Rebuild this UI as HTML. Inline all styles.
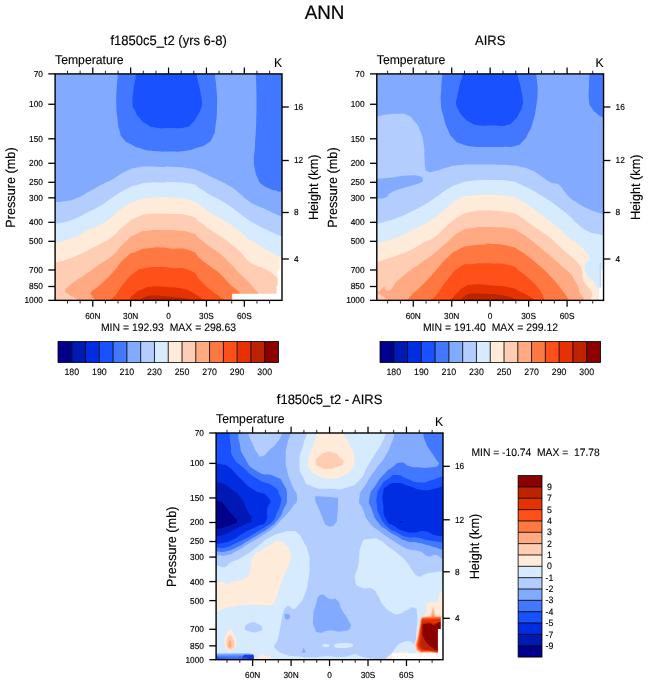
<!DOCTYPE html>
<html><head><meta charset="utf-8"><title>ANN</title>
<style>html,body{margin:0;padding:0;background:#fff}svg{display:block}
svg{-webkit-font-smoothing:antialiased}text{font-family:"Liberation Sans",sans-serif;fill:#000;text-rendering:geometricPrecision}</style></head>
<body><svg width="648" height="684" viewBox="0 0 648 684">
<rect width="648" height="684" fill="#fff"/>
<clipPath id="cp1"><rect x="55.1" y="73.9" width="226.9" height="226.5"/></clipPath>
<g clip-path="url(#cp1)">
<rect x="50" y="70" width="240" height="236" fill="#82aaff"/>
<path d="M117.80,60.00 C117.80,64.70 118.17,64.60 117.80,74.10 C117.43,83.60 117.20,78.77 116.70,88.50 C116.20,98.23 116.07,93.43 116.30,103.30 C116.53,113.17 116.30,108.83 117.40,118.10 C118.50,127.37 117.73,124.30 119.60,131.10 C121.47,137.90 119.40,134.17 123.00,138.50 C126.60,142.83 124.23,140.70 130.40,144.10 C136.57,147.50 133.50,146.37 141.50,148.70 C149.50,151.03 145.13,150.17 154.40,151.10 C163.67,152.03 159.40,151.57 169.30,151.50 C179.20,151.43 174.87,152.13 184.10,150.90 C193.33,149.67 189.60,150.07 197.00,147.80 C204.40,145.53 201.03,147.80 206.30,144.10 C211.57,140.40 209.70,142.87 212.80,136.70 C215.90,130.53 214.20,135.50 215.60,125.60 C217.00,115.70 216.70,119.37 217.00,107.00 C217.30,94.63 217.17,99.47 216.50,88.50 C215.83,77.53 215.50,83.60 215.00,74.10 C214.50,64.60 215.00,64.70 215.00,60.00Z" fill="#4178ff" />
<path d="M136.00,60.00 C135.97,64.70 136.67,64.60 135.90,74.10 C135.13,83.60 134.80,78.77 133.70,88.50 C132.60,98.23 132.17,95.90 132.60,103.30 C133.03,110.70 132.67,105.77 135.00,110.70 C137.33,115.63 135.60,113.47 139.60,118.10 C143.60,122.73 141.43,121.37 147.00,124.60 C152.57,127.83 148.87,126.63 156.30,127.80 C163.73,128.97 160.03,128.23 169.30,128.10 C178.57,127.97 176.70,128.87 184.10,127.40 C191.50,125.93 187.20,127.40 191.50,123.70 C195.80,120.00 193.93,121.23 197.00,116.30 C200.07,111.37 199.03,113.23 200.70,108.90 C202.37,104.57 202.10,108.87 202.00,103.30 C201.90,97.73 201.73,99.60 200.40,92.20 C199.07,84.80 199.23,87.13 198.00,81.10 C196.77,75.07 197.20,81.13 196.70,74.10 C196.20,67.07 196.57,64.70 196.50,60.00Z" fill="#1950ff" />
<path d="M255.75,70.00 C255.75,71.17 255.50,65.17 255.75,73.50 C256.00,81.83 256.33,79.50 256.50,95.00 C256.67,110.50 256.75,103.33 256.25,120.00 C255.75,136.67 255.75,131.67 255.00,145.00 C254.25,158.33 254.07,152.20 254.00,160.00 C253.93,167.80 253.60,162.43 254.80,168.40 C256.00,174.37 255.27,172.63 257.60,177.90 C259.93,183.17 257.93,180.70 261.80,184.20 C265.67,187.70 264.63,186.30 269.20,188.40 C273.77,190.50 271.43,189.43 275.50,190.50 C279.57,191.57 276.57,190.93 281.40,191.60 C286.23,192.27 287.13,192.20 290.00,192.50 L290.00,60.00Z" fill="#4178ff" />
<path d="M50.00,202.25 C51.83,202.17 50.50,202.33 55.50,202.00 C60.50,201.67 58.50,202.33 65.00,201.25 C71.50,200.17 67.50,201.67 75.00,198.75 C82.50,195.83 79.17,196.92 87.50,192.50 C95.83,188.08 91.67,189.92 100.00,185.50 C108.33,181.08 104.17,183.83 112.50,179.25 C120.83,174.67 116.67,175.67 125.00,171.75 C133.33,167.83 129.17,169.25 137.50,167.50 C145.83,165.75 141.67,166.67 150.00,166.50 C158.33,166.33 155.83,166.93 162.50,167.00 C169.17,167.07 160.83,166.23 170.00,166.70 C179.17,167.17 180.00,166.77 190.00,168.40 C200.00,170.03 193.33,168.97 200.00,171.60 C206.67,174.23 203.33,173.17 210.00,176.30 C216.67,179.43 213.33,177.67 220.00,181.00 C226.67,184.33 223.33,182.07 230.00,186.30 C236.67,190.53 234.00,188.97 240.00,193.70 C246.00,198.43 242.67,196.63 248.00,200.50 C253.33,204.37 250.00,202.30 256.00,205.30 C262.00,208.30 259.33,206.50 266.00,209.50 C272.67,212.50 270.83,212.00 276.00,214.30 C281.17,216.60 276.83,214.83 281.50,216.40 C286.17,217.97 287.17,218.13 290.00,219.00 L287.00,305.35 L50.10,305.35Z" fill="#b4cdff" />
<path d="M50.00,224.25 C51.83,224.08 50.50,224.50 55.50,223.75 C60.50,223.00 58.50,223.67 65.00,222.00 C71.50,220.33 67.50,221.92 75.00,218.75 C82.50,215.58 79.17,216.75 87.50,212.50 C95.83,208.25 91.67,211.00 100.00,206.00 C108.33,201.00 104.17,202.92 112.50,197.50 C120.83,192.08 116.67,194.00 125.00,189.75 C133.33,185.50 129.17,187.17 137.50,184.75 C145.83,182.33 141.67,183.25 150.00,182.50 C158.33,181.75 155.83,182.63 162.50,182.50 C169.17,182.37 160.83,181.73 170.00,182.10 C179.17,182.47 180.00,181.50 190.00,183.60 C200.00,185.70 193.33,184.70 200.00,188.40 C206.67,192.10 203.33,190.83 210.00,194.70 C216.67,198.57 213.33,196.13 220.00,200.00 C226.67,203.87 223.33,201.73 230.00,206.30 C236.67,210.87 234.00,209.30 240.00,213.70 C246.00,218.10 242.67,216.00 248.00,219.50 C253.33,223.00 250.00,220.87 256.00,224.20 C262.00,227.53 259.33,226.20 266.00,229.50 C272.67,232.80 270.83,231.87 276.00,234.10 C281.17,236.33 276.83,234.57 281.50,236.20 C286.17,237.83 287.17,238.07 290.00,239.00 L287.00,305.35 L50.10,305.35Z" fill="#d7ebff" />
<path d="M50.00,243.25 C51.83,243.00 50.50,243.42 55.50,242.50 C60.50,241.58 58.50,242.33 65.00,240.50 C71.50,238.67 67.50,240.33 75.00,237.00 C82.50,233.67 79.17,234.50 87.50,230.50 C95.83,226.50 91.67,229.67 100.00,225.00 C108.33,220.33 104.17,222.67 112.50,216.50 C120.83,210.33 116.67,211.83 125.00,206.50 C133.33,201.17 129.17,203.33 137.50,200.50 C145.83,197.67 141.67,199.00 150.00,198.00 C158.33,197.00 155.83,197.67 162.50,197.50 C169.17,197.33 160.83,196.67 170.00,197.50 C179.17,198.33 180.00,197.40 190.00,200.00 C200.00,202.60 193.33,201.10 200.00,205.30 C206.67,209.50 203.33,208.40 210.00,212.60 C216.67,216.80 213.33,214.03 220.00,217.90 C226.67,221.77 223.33,219.63 230.00,224.20 C236.67,228.77 234.00,226.83 240.00,231.60 C246.00,236.37 242.67,234.63 248.00,238.50 C253.33,242.37 250.00,239.53 256.00,243.20 C262.00,246.87 259.33,245.67 266.00,249.50 C272.67,253.33 270.83,252.10 276.00,254.70 C281.17,257.30 276.83,255.53 281.50,257.30 C286.17,259.07 287.17,259.10 290.00,260.00 L287.00,305.35 L50.10,305.35Z" fill="#ffebda" />
<path d="M50.00,263.50 C51.83,263.17 50.50,263.67 55.50,262.50 C60.50,261.33 58.50,262.08 65.00,260.00 C71.50,257.92 67.50,259.42 75.00,256.25 C82.50,253.08 79.17,254.58 87.50,250.50 C95.83,246.42 91.67,248.67 100.00,244.00 C108.33,239.33 104.17,242.83 112.50,236.50 C120.83,230.17 116.67,231.50 125.00,225.00 C133.33,218.50 129.17,220.67 137.50,217.00 C145.83,213.33 141.67,215.08 150.00,214.00 C158.33,212.92 155.83,213.85 162.50,213.75 C169.17,213.65 160.83,213.02 170.00,213.70 C179.17,214.38 180.00,213.00 190.00,215.80 C200.00,218.60 193.33,217.53 200.00,222.10 C206.67,226.67 203.33,224.93 210.00,229.50 C216.67,234.07 213.33,231.23 220.00,235.80 C226.67,240.37 223.33,237.93 230.00,243.20 C236.67,248.47 234.00,245.83 240.00,251.60 C246.00,257.37 242.67,255.93 248.00,260.50 C253.33,265.07 250.00,262.30 256.00,265.30 C262.00,268.30 259.33,265.67 266.00,269.50 C272.67,273.33 271.33,271.97 276.00,276.80 C280.67,281.63 278.00,276.27 280.00,284.00 C282.00,291.73 281.33,294.67 282.00,300.00 L287.00,305.35 L50.10,305.35Z" fill="#ffcdb4" />
<path d="M78.50,302.50 C78.17,301.67 78.67,301.50 77.50,300.00 C76.33,298.50 78.33,300.08 75.00,298.00 C71.67,295.92 70.67,296.42 67.50,293.75 C64.33,291.08 64.67,292.92 65.50,290.00 C66.33,287.08 66.83,287.92 70.00,285.00 C73.17,282.08 69.17,285.25 75.00,281.25 C80.83,277.25 79.17,278.75 87.50,273.00 C95.83,267.25 91.67,269.83 100.00,264.00 C108.33,258.17 104.17,262.75 112.50,255.50 C120.83,248.25 116.67,249.58 125.00,242.25 C133.33,234.92 129.17,237.42 137.50,233.50 C145.83,229.58 141.67,231.67 150.00,230.50 C158.33,229.33 155.83,230.13 162.50,230.00 C169.17,229.87 160.83,229.23 170.00,230.10 C179.17,230.97 180.00,229.63 190.00,232.60 C200.00,235.57 193.33,234.27 200.00,239.00 C206.67,243.73 203.33,241.90 210.00,246.80 C216.67,251.70 213.33,248.23 220.00,253.70 C226.67,259.17 223.33,256.53 230.00,263.20 C236.67,269.87 234.00,267.60 240.00,273.70 C246.00,279.80 242.67,275.90 248.00,281.50 C253.33,287.10 252.47,286.43 256.00,290.50 C259.53,294.57 256.60,288.53 258.60,293.70 C260.60,298.87 260.87,301.90 262.00,306.00Z" fill="#ffaa82" />
<path d="M96.00,302.50 C95.67,301.67 96.17,302.08 95.00,300.00 C93.83,297.92 93.75,298.92 92.50,296.25 C91.25,293.58 88.75,295.75 91.25,292.00 C93.75,288.25 92.92,291.42 100.00,285.00 C107.08,278.58 104.17,281.67 112.50,272.75 C120.83,263.83 116.67,265.50 125.00,258.25 C133.33,251.00 129.17,254.42 137.50,251.00 C145.83,247.58 141.67,249.17 150.00,248.00 C158.33,246.83 155.83,247.37 162.50,247.50 C169.17,247.63 160.83,247.40 170.00,248.40 C179.17,249.40 180.00,247.13 190.00,250.50 C200.00,253.87 193.33,253.23 200.00,258.50 C206.67,263.77 203.33,261.23 210.00,266.30 C216.67,271.37 213.33,267.73 220.00,273.70 C226.67,279.67 223.33,277.53 230.00,284.20 C236.67,290.87 234.67,286.43 240.00,293.70 C245.33,300.97 244.00,301.90 246.00,306.00Z" fill="#ff7841" />
<path d="M107.00,302.50 C107.75,301.67 106.58,302.25 109.25,300.00 C111.92,297.75 109.75,301.75 115.00,295.75 C120.25,289.75 118.33,289.83 125.00,282.00 C131.67,274.17 128.33,276.83 135.00,272.25 C141.67,267.67 135.83,270.00 145.00,268.25 C154.17,266.50 154.17,267.15 162.50,267.00 C170.83,266.85 160.83,266.63 170.00,267.80 C179.17,268.97 180.00,266.43 190.00,270.50 C200.00,274.57 193.33,273.67 200.00,280.00 C206.67,286.33 203.33,283.90 210.00,289.50 C216.67,295.10 215.33,293.30 220.00,296.80 C224.67,300.30 221.33,296.93 224.00,300.00 C226.67,303.07 226.67,304.00 228.00,306.00Z" fill="#ff5019" />
<path d="M124.00,303.00 C125.50,302.00 124.83,303.17 128.50,300.00 C132.17,296.83 130.17,297.17 135.00,293.50 C139.83,289.83 137.67,291.27 143.00,289.00 C148.33,286.73 143.23,287.37 151.00,286.70 C158.77,286.03 156.07,286.37 166.30,287.00 C176.53,287.63 173.47,287.00 181.70,288.60 C189.93,290.20 184.83,288.83 191.00,291.80 C197.17,294.77 196.03,294.77 200.20,297.50 C204.37,300.23 201.23,298.17 203.50,300.00 C205.77,301.83 205.83,302.00 207.00,303.00Z" fill="#e63200" />
<path d="M136.00,303.00 C137.33,302.00 136.67,302.07 140.00,300.00 C143.33,297.93 141.33,298.30 146.00,296.80 C150.67,295.30 147.33,295.70 154.00,295.50 C160.67,295.30 157.33,295.50 166.00,296.20 C174.67,296.90 173.33,296.73 180.00,297.60 C186.67,298.47 182.67,298.00 186.00,298.80 C189.33,299.60 187.67,298.60 190.00,300.00 C192.33,301.40 192.00,302.00 193.00,303.00Z" fill="#be2300" />
<path d="M232.1,293.7 L276.5,293.7 L276.5,286 L277.6,286 L277.6,269.5 L279.7,269.5 L279.7,257.5 L284,257.5 L284,304 L232.1,304Z" fill="#fff"/>
</g>
<clipPath id="cp2"><rect x="376.8" y="73.9" width="226.7" height="226.5"/></clipPath>
<g clip-path="url(#cp2)">
<rect x="370" y="70" width="240" height="236" fill="#82aaff"/>
<path d="M442.20,60.00 C442.20,64.70 442.50,64.60 442.20,74.10 C441.90,83.60 441.73,78.77 441.30,88.50 C440.87,98.23 440.17,94.03 440.90,103.30 C441.63,112.57 441.23,107.63 443.50,116.30 C445.77,124.97 444.43,121.90 447.70,129.30 C450.97,136.70 448.67,133.57 453.30,138.50 C457.93,143.43 455.13,141.43 461.60,144.10 C468.07,146.77 464.03,145.57 472.70,146.50 C481.37,147.43 477.70,146.77 487.60,146.90 C497.50,147.03 493.17,147.23 502.40,146.90 C511.63,146.57 508.53,147.77 515.30,145.90 C522.07,144.03 518.37,145.60 522.70,141.30 C527.03,137.00 524.90,139.47 528.30,133.00 C531.70,126.53 530.30,130.57 532.90,121.90 C535.50,113.23 534.53,116.90 536.10,107.00 C537.67,97.10 537.30,100.83 537.60,92.20 C537.90,83.57 537.43,87.13 537.00,81.10 C536.57,75.07 536.53,81.13 536.30,74.10 C536.07,67.07 536.30,64.70 536.30,60.00Z" fill="#4178ff" />
<path d="M463.00,60.00 C462.87,64.70 463.67,65.83 462.60,74.10 C461.53,82.37 461.67,76.90 459.80,84.80 C457.93,92.70 458.23,91.63 457.00,97.80 C455.77,103.97 455.47,99.00 456.10,103.30 C456.73,107.60 456.13,105.77 458.90,110.70 C461.67,115.63 460.40,114.07 464.40,118.10 C468.40,122.13 466.27,120.43 470.90,122.80 C475.53,125.17 471.50,124.27 478.30,125.20 C485.10,126.13 482.03,125.60 491.30,125.60 C500.57,125.60 498.70,126.77 506.10,125.20 C513.50,123.63 509.20,124.80 513.50,120.90 C517.80,117.00 516.03,118.73 519.00,113.50 C521.97,108.27 521.17,109.83 522.40,105.20 C523.63,100.57 523.20,105.17 522.70,99.60 C522.20,94.03 522.23,95.27 520.90,88.50 C519.57,81.73 519.80,84.10 518.70,79.30 C517.60,74.50 518.03,80.53 517.60,74.10 C517.17,67.67 517.47,64.70 517.40,60.00Z" fill="#1950ff" />
<path d="M589.50,70.00 C589.50,71.17 589.67,68.50 589.50,73.50 C589.33,78.50 589.17,76.17 589.00,85.00 C588.83,93.83 588.17,92.50 589.00,100.00 C589.83,107.50 588.83,102.92 591.50,107.50 C594.17,112.08 593.50,110.58 597.00,113.75 C600.50,116.92 599.83,115.75 602.00,117.00 C604.17,118.25 601.00,117.17 603.50,117.50 C606.00,117.83 607.50,117.83 609.50,118.00 L615.00,60.00Z" fill="#4178ff" />
<path d="M372.00,117.00 C373.83,116.75 372.50,117.08 377.50,116.25 C382.50,115.42 379.67,115.33 387.00,114.50 C394.33,113.67 392.83,113.58 399.50,113.75 C406.17,113.92 402.00,112.50 407.00,115.00 C412.00,117.50 409.92,115.42 414.50,121.25 C419.08,127.08 417.67,124.58 420.75,132.50 C423.83,140.42 422.50,136.67 423.75,145.00 C425.00,153.33 424.00,150.00 424.50,157.50 C425.00,165.00 424.25,162.92 425.25,167.50 C426.25,172.08 424.42,170.00 427.50,171.25 C430.58,172.50 428.00,172.50 434.50,171.25 C441.00,170.00 438.67,169.58 447.00,167.50 C455.33,165.42 451.17,166.00 459.50,165.00 C467.83,164.00 463.67,164.67 472.00,164.50 C480.33,164.33 478.50,164.47 484.50,164.50 C490.50,164.53 481.50,164.33 490.00,164.60 C498.50,164.87 500.00,164.60 510.00,165.30 C520.00,166.00 513.33,165.30 520.00,166.70 C526.67,168.10 523.33,166.67 530.00,169.50 C536.67,172.33 533.33,171.00 540.00,175.20 C546.67,179.40 544.67,179.33 550.00,182.10 C555.33,184.87 552.67,182.30 556.00,183.50 C559.33,184.70 557.00,182.87 560.00,185.70 C563.00,188.53 561.67,188.00 565.00,192.00 C568.33,196.00 565.67,193.97 570.00,197.70 C574.33,201.43 572.00,199.50 578.00,203.20 C584.00,206.90 581.33,205.67 588.00,208.80 C594.67,211.93 592.83,210.77 598.00,212.60 C603.17,214.43 598.83,213.17 603.50,214.30 C608.17,215.43 609.17,215.43 612.00,216.00 L608.55,305.35 L371.80,305.35Z" fill="#b4cdff" />
<path d="M372.00,179.25 C373.83,179.08 370.83,179.33 377.50,178.75 C384.17,178.17 382.17,178.58 392.00,177.50 C401.83,176.42 397.83,175.92 407.00,175.50 C416.17,175.08 414.25,174.75 419.50,176.25 C424.75,177.75 422.33,177.92 422.75,180.00 C423.17,182.08 425.17,180.42 420.75,182.50 C416.33,184.58 417.42,183.75 409.50,186.25 C401.58,188.75 403.67,187.50 397.00,190.00 C390.33,192.50 393.25,191.25 389.50,193.75 C385.75,196.25 389.75,195.83 385.75,197.50 C381.75,199.17 382.08,198.25 377.50,198.75 C372.92,199.25 373.83,198.92 372.00,199.00Z" fill="#82aaff" />
<path d="M372.00,225.00 C373.83,224.58 372.50,225.00 377.50,223.75 C382.50,222.50 380.50,223.17 387.00,221.25 C393.50,219.33 389.50,220.92 397.00,218.00 C404.50,215.08 401.17,216.50 409.50,212.50 C417.83,208.50 413.67,210.75 422.00,206.00 C430.33,201.25 426.17,203.75 434.50,198.25 C442.83,192.75 438.67,194.42 447.00,189.50 C455.33,184.58 451.17,186.42 459.50,183.50 C467.83,180.58 463.67,181.92 472.00,180.75 C480.33,179.58 478.50,180.25 484.50,180.00 C490.50,179.75 481.50,179.67 490.00,180.00 C498.50,180.33 500.00,179.60 510.00,181.00 C520.00,182.40 513.33,181.53 520.00,184.20 C526.67,186.87 523.33,185.50 530.00,189.00 C536.67,192.50 533.33,190.70 540.00,194.70 C546.67,198.70 543.33,196.43 550.00,201.00 C556.67,205.57 553.33,203.23 560.00,208.40 C566.67,213.57 564.00,211.23 570.00,216.50 C576.00,221.77 572.00,219.30 578.00,224.20 C584.00,229.10 581.33,227.90 588.00,231.20 C594.67,234.50 592.83,232.70 598.00,234.10 C603.17,235.50 598.83,234.43 603.50,235.40 C608.17,236.37 609.17,236.47 612.00,237.00 L608.55,305.35 L371.80,305.35Z" fill="#d7ebff" />
<path d="M372.00,244.25 C373.83,243.83 372.50,244.25 377.50,243.00 C382.50,241.75 380.50,242.33 387.00,240.50 C393.50,238.67 389.50,240.50 397.00,237.50 C404.50,234.50 401.17,235.58 409.50,231.50 C417.83,227.42 413.67,229.75 422.00,225.25 C430.33,220.75 426.17,223.83 434.50,218.00 C442.83,212.17 438.67,214.25 447.00,207.75 C455.33,201.25 451.17,202.50 459.50,198.50 C467.83,194.50 463.67,196.92 472.00,195.75 C480.33,194.58 478.50,195.35 484.50,195.00 C490.50,194.65 481.50,194.30 490.00,194.70 C498.50,195.10 500.00,194.43 510.00,196.20 C520.00,197.97 513.33,196.63 520.00,200.00 C526.67,203.37 523.33,201.73 530.00,206.30 C536.67,210.87 533.33,208.80 540.00,213.70 C546.67,218.60 543.33,215.73 550.00,221.00 C556.67,226.27 553.33,223.67 560.00,229.50 C566.67,235.33 564.00,233.60 570.00,238.50 C576.00,243.40 571.87,238.43 578.00,244.20 C584.13,249.97 585.77,249.47 588.40,255.80 C591.03,262.13 587.10,258.63 585.90,263.20 C584.70,267.77 584.60,265.67 584.80,269.50 C585.00,273.33 584.73,271.57 586.50,274.70 C588.27,277.83 587.83,276.80 590.10,278.90 C592.37,281.00 591.20,278.53 593.30,281.00 C595.40,283.47 594.67,283.47 596.40,286.30 C598.13,289.13 596.63,286.27 598.50,289.50 C600.37,292.73 600.17,290.50 602.00,296.00 C603.83,301.50 603.33,302.67 604.00,306.00 L371.80,305.35Z" fill="#ffebda" />
<path d="M372.00,263.25 C373.83,262.83 372.50,263.50 377.50,262.00 C382.50,260.50 380.50,260.92 387.00,258.75 C393.50,256.58 389.50,258.25 397.00,255.50 C404.50,252.75 401.17,254.50 409.50,250.50 C417.83,246.50 413.67,248.00 422.00,243.50 C430.33,239.00 426.17,242.92 434.50,237.00 C442.83,231.08 438.67,232.67 447.00,225.75 C455.33,218.83 451.17,220.92 459.50,216.25 C467.83,211.58 463.67,213.67 472.00,211.75 C480.33,209.83 478.50,210.92 484.50,210.50 C490.50,210.08 481.50,209.80 490.00,210.50 C498.50,211.20 500.00,210.50 510.00,212.60 C520.00,214.70 513.33,213.10 520.00,216.80 C526.67,220.50 523.33,219.13 530.00,223.70 C536.67,228.27 533.33,225.90 540.00,230.50 C546.67,235.10 543.33,232.10 550.00,237.50 C556.67,242.90 553.33,240.70 560.00,246.70 C566.67,252.70 563.97,250.00 570.00,255.50 C576.03,261.00 574.20,258.53 578.10,263.20 C582.00,267.87 580.17,264.60 581.70,269.50 C583.23,274.40 581.30,273.00 582.70,277.90 C584.10,282.80 583.43,280.33 585.90,284.20 C588.37,288.07 588.00,286.33 590.10,289.50 C592.20,292.67 591.70,291.27 592.20,293.70 C592.70,296.13 592.10,294.77 591.60,296.80 C591.10,298.83 591.23,296.73 590.70,299.80 C590.17,302.87 590.23,303.93 590.00,306.00 L371.80,305.35Z" fill="#ffcdb4" />
<path d="M372.00,293.50 C373.73,293.20 374.17,293.93 377.20,292.60 C380.23,291.27 378.77,291.37 381.10,289.50 C383.43,287.63 382.57,286.80 384.20,287.00 C385.83,287.20 384.57,288.87 386.00,290.10 C387.43,291.33 386.63,291.10 388.50,290.70 C390.37,290.30 389.53,291.13 391.60,288.90 C393.67,286.67 392.90,286.55 394.70,284.00 C396.50,281.45 392.07,285.58 397.00,281.25 C401.93,276.92 401.17,277.33 409.50,271.00 C417.83,264.67 413.67,268.25 422.00,262.25 C430.33,256.25 426.17,259.67 434.50,253.00 C442.83,246.33 438.67,249.25 447.00,242.25 C455.33,235.25 451.17,236.75 459.50,232.00 C467.83,227.25 463.67,229.67 472.00,228.00 C480.33,226.33 478.50,227.33 484.50,227.00 C490.50,226.67 481.50,226.53 490.00,227.00 C498.50,227.47 500.00,226.53 510.00,228.40 C520.00,230.27 513.33,228.90 520.00,232.60 C526.67,236.30 523.33,234.57 530.00,239.50 C536.67,244.43 533.33,241.97 540.00,247.40 C546.67,252.83 543.33,250.07 550.00,255.80 C556.67,261.53 553.33,258.70 560.00,264.60 C566.67,270.50 565.23,268.37 570.00,273.50 C574.77,278.63 571.60,275.73 574.30,280.00 C577.00,284.27 576.33,282.10 578.10,286.30 C579.87,290.50 578.07,289.10 579.60,292.60 C581.13,296.10 581.30,294.40 582.70,296.80 C584.10,299.20 583.37,296.73 583.80,299.80 C584.23,302.87 583.93,303.93 584.00,306.00 L371.80,305.35Z" fill="#ffaa82" />
<path d="M372,292.8 L377.2,292.8 L381.1,295.1 L384.8,297.5 L386.7,300.4 L387,306 L372,306Z" fill="#ffcdb4"/>
<path d="M407.00,302.50 C407.42,301.67 406.58,302.67 408.25,300.00 C409.92,297.33 407.42,299.33 412.00,294.50 C416.58,289.67 414.50,293.00 422.00,285.50 C429.50,278.00 426.17,281.17 434.50,272.00 C442.83,262.83 438.67,265.67 447.00,258.00 C455.33,250.33 451.17,253.17 459.50,249.00 C467.83,244.83 463.67,247.00 472.00,245.50 C480.33,244.00 478.50,245.07 484.50,244.50 C490.50,243.93 481.50,243.20 490.00,243.80 C498.50,244.40 500.00,243.90 510.00,246.30 C520.00,248.70 513.33,247.13 520.00,251.00 C526.67,254.87 523.33,252.80 530.00,257.90 C536.67,263.00 533.33,260.33 540.00,266.30 C546.67,272.27 543.33,268.77 550.00,275.80 C556.67,282.83 553.67,279.40 560.00,287.40 C566.33,295.40 564.67,293.60 569.00,299.80 C573.33,306.00 571.67,303.93 573.00,306.00Z" fill="#ff7841" />
<path d="M429.50,302.50 C430.00,301.67 428.33,303.00 431.00,300.00 C433.67,297.00 432.17,300.08 437.50,293.50 C442.83,286.92 439.67,289.00 447.00,280.25 C454.33,271.50 451.17,272.67 459.50,267.25 C467.83,261.83 463.67,265.33 472.00,264.00 C480.33,262.67 478.50,263.52 484.50,263.25 C490.50,262.98 481.50,262.52 490.00,263.20 C498.50,263.88 500.00,262.50 510.00,265.30 C520.00,268.10 513.33,266.87 520.00,271.60 C526.67,276.33 523.33,273.20 530.00,279.50 C536.67,285.80 535.10,283.73 540.00,290.50 C544.90,297.27 542.03,294.63 544.70,299.80 C547.37,304.97 546.90,303.93 548.00,306.00Z" fill="#ff5019" />
<path d="M449.75,302.50 C450.17,301.67 448.58,303.17 451.00,300.00 C453.42,296.83 452.50,297.33 457.00,293.00 C461.50,288.67 459.50,289.75 464.50,287.00 C469.50,284.25 465.33,285.58 472.00,284.75 C478.67,283.92 478.50,284.32 484.50,284.50 C490.50,284.68 481.50,284.33 490.00,285.30 C498.50,286.27 500.00,285.30 510.00,287.40 C520.00,289.50 513.33,288.47 520.00,291.60 C526.67,294.73 525.33,294.07 530.00,296.80 C534.67,299.53 530.67,296.73 534.00,299.80 C537.33,302.87 538.00,303.93 540.00,306.00Z" fill="#e63200" />
<path d="M459.50,302.50 C460.00,301.67 459.17,302.17 461.00,300.00 C462.83,297.83 461.33,298.17 465.00,296.00 C468.67,293.83 465.50,294.25 472.00,293.50 C478.50,292.75 476.17,293.42 484.50,293.75 C492.83,294.08 489.50,293.67 497.00,294.50 C504.50,295.33 501.17,294.83 507.00,296.25 C512.83,297.67 511.17,297.50 514.50,298.75 C517.83,300.00 515.33,298.75 517.00,300.00 C518.67,301.25 518.67,301.67 519.50,302.50Z" fill="#be2300" />
<rect x="599.7" y="263" width="1.5" height="25" fill="#b4cdff" opacity="0.75"/>
<path d="M599.2,287.4 L601.3,287.4 L601.3,269.5 L606,269.5 L606,306 L599.2,306Z" fill="#fff"/>
</g>
<clipPath id="cp3"><rect x="216.1" y="433.0" width="226.9" height="226.7"/></clipPath>
<g clip-path="url(#cp3)">
<rect x="210" y="430" width="240" height="236" fill="#b4cdff"/>
<path d="M307.50,427.50 C307.33,429.50 308.42,427.67 307.00,433.50 C305.58,439.33 305.75,435.33 303.25,445.00 C300.75,454.67 299.50,451.67 299.50,462.50 C299.50,473.33 299.08,469.58 303.25,477.50 C307.42,485.42 303.25,482.50 312.00,486.25 C320.75,490.00 317.83,488.33 329.50,488.75 C341.17,489.17 337.00,490.42 347.00,487.50 C357.00,484.58 352.83,486.67 359.50,480.00 C366.17,473.33 362.00,475.83 367.00,467.50 C372.00,459.17 369.92,462.50 374.50,455.00 C379.08,447.50 377.00,452.17 380.75,445.00 C384.50,437.83 383.83,439.33 385.75,433.50 C387.67,427.67 386.25,429.50 386.50,427.50Z" fill="#d7ebff" />
<path d="M209.50,565.00 C211.83,565.17 211.50,564.83 216.50,565.50 C221.50,566.17 219.75,568.00 224.50,567.00 C229.25,566.00 225.75,565.25 230.75,562.50 C235.75,559.75 233.25,562.08 239.50,558.75 C245.75,555.42 242.83,557.08 249.50,552.50 C256.17,547.92 252.83,550.00 259.50,545.00 C266.17,540.00 262.00,541.67 269.50,537.50 C277.00,533.33 274.50,534.58 282.00,532.50 C289.50,530.42 286.58,530.83 292.00,531.25 C297.42,531.67 294.50,530.42 298.25,533.75 C302.00,537.08 299.92,535.00 303.25,541.25 C306.58,547.50 306.17,544.58 308.25,552.50 C310.33,560.42 309.50,555.83 309.50,565.00 C309.50,574.17 309.92,570.00 308.25,580.00 C306.58,590.00 307.83,586.67 304.50,595.00 C301.17,603.33 302.00,600.42 298.25,605.00 C294.50,609.58 296.17,608.33 293.25,608.75 C290.33,609.17 292.00,606.67 289.50,606.25 C287.00,605.83 287.83,605.42 285.75,607.50 C283.67,609.58 284.92,606.67 283.25,612.50 C281.58,618.33 282.67,615.83 280.75,625.00 C278.83,634.17 279.58,633.33 277.50,640.00 C275.42,646.67 274.67,641.67 274.50,645.00 C274.33,648.33 272.83,646.67 277.00,650.00 C281.17,653.33 280.33,652.92 287.00,655.00 C293.67,657.08 288.67,655.42 297.00,656.25 C305.33,657.08 302.00,657.50 312.00,657.50 C322.00,657.50 317.00,656.42 327.00,656.25 C337.00,656.08 332.00,657.83 342.00,657.00 C352.00,656.17 352.00,654.42 357.00,653.75 C362.00,653.08 353.67,653.58 357.00,655.00 C360.33,656.42 361.17,656.58 367.00,658.00 C372.83,659.42 371.58,656.92 374.50,659.25 C377.42,661.58 375.33,663.08 375.75,665.00 L200.00,670.00Z" fill="#d7ebff" />
<path d="M363.25,540.00 C366.17,539.58 366.58,538.75 372.00,538.75 C377.42,538.75 373.67,537.08 379.50,540.00 C385.33,542.92 382.83,542.50 389.50,547.50 C396.17,552.50 393.67,550.00 399.50,555.00 C405.33,560.00 402.83,557.50 407.00,562.50 C411.17,567.50 408.25,565.42 412.00,570.00 C415.75,574.58 414.08,574.75 418.25,576.25 C422.42,577.75 419.92,575.75 424.50,574.50 C429.08,573.25 425.92,573.58 432.00,572.50 C438.08,571.42 436.92,571.67 442.75,571.25 C448.58,570.83 447.25,571.25 449.50,571.25 L450,670 L385.75,665.00 C385.75,663.08 385.33,661.75 385.75,659.25 C386.17,656.75 384.92,659.75 387.00,657.50 C389.08,655.25 388.67,656.25 392.00,652.50 C395.33,648.75 393.67,649.58 397.00,646.25 C400.33,642.92 397.83,644.17 402.00,642.50 C406.17,640.83 405.33,641.25 409.50,641.25 C413.67,641.25 412.17,646.25 414.50,642.50 C416.83,638.75 415.67,639.17 416.50,630.00 C417.33,620.83 417.67,622.33 417.00,615.00 C416.33,607.67 417.83,609.67 414.50,608.00 C411.17,606.33 412.00,608.08 407.00,610.00 C402.00,611.92 404.50,612.92 399.50,613.75 C394.50,614.58 397.42,615.42 392.00,612.50 C386.58,609.58 387.83,610.42 383.25,605.00 C378.67,599.58 382.00,601.67 378.25,596.25 C374.50,590.83 377.42,591.67 372.00,588.75 C366.58,585.83 367.67,590.42 362.00,587.50 C356.33,584.58 356.25,587.50 355.00,580.00 C353.75,572.50 356.75,575.00 358.25,565.00 C359.75,555.00 359.08,555.00 359.50,550.00Z" fill="#d7ebff" />
<path d="M322.50,645.50 C322.50,644.50 323.42,644.00 325.75,644.00 C328.08,644.00 329.50,644.50 329.50,645.50 C329.50,646.50 328.08,647.00 325.75,647.00 C323.42,647.00 322.50,646.50 322.50,645.50Z" fill="#d7ebff" />
<path d="M334.00,645.75 C334.00,644.08 336.83,643.17 343.25,643.00 C349.67,642.83 353.25,643.58 353.25,645.25 C353.25,646.92 349.67,647.83 343.25,648.00 C336.83,648.17 334.00,647.42 334.00,645.75Z" fill="#d7ebff" />
<path d="M317.50,427.50 C317.33,429.50 318.42,427.67 317.00,433.50 C315.58,439.33 316.17,436.17 313.25,445.00 C310.33,453.83 309.08,451.67 308.25,460.00 C307.42,468.33 307.00,464.58 310.75,470.00 C314.50,475.42 313.25,473.33 319.50,476.25 C325.75,479.17 322.00,478.75 329.50,478.75 C337.00,478.75 334.92,479.17 342.00,476.25 C349.08,473.33 346.58,475.42 350.75,470.00 C354.92,464.58 354.50,467.50 354.50,460.00 C354.50,452.50 353.67,455.00 350.75,447.50 C347.83,440.00 348.25,442.17 345.75,437.50 C343.25,432.83 344.25,436.83 343.25,433.50 C342.25,430.17 342.92,429.50 342.75,427.50Z" fill="#ffebda" />
<path d="M209.50,583.00 C211.83,582.83 212.33,583.08 216.50,582.50 C220.67,581.92 218.50,580.83 222.00,581.25 C225.50,581.67 222.83,583.75 227.00,583.75 C231.17,583.75 228.67,582.92 234.50,581.25 C240.33,579.58 239.50,581.67 244.50,578.75 C249.50,575.83 246.58,579.58 249.50,572.50 C252.42,565.42 249.08,565.00 253.25,557.50 C257.42,550.00 255.75,554.58 262.00,550.00 C268.25,545.42 266.58,546.67 272.00,543.75 C277.42,540.83 273.67,540.83 278.25,541.25 C282.83,541.67 281.58,540.83 285.75,545.00 C289.92,549.17 289.50,547.92 290.75,553.75 C292.00,559.58 291.58,555.42 289.50,562.50 C287.42,569.58 287.83,566.67 284.50,575.00 C281.17,583.33 282.42,579.17 279.50,587.50 C276.58,595.83 278.67,594.17 275.75,600.00 C272.83,605.83 276.17,603.33 270.75,605.00 C265.33,606.67 267.42,605.00 259.50,605.00 C251.58,605.00 255.33,604.58 247.00,605.00 C238.67,605.42 242.00,605.00 234.50,606.25 C227.00,607.50 230.50,607.08 224.50,608.75 C218.50,610.42 221.50,610.25 216.50,611.25 C211.50,612.25 211.83,611.58 209.50,611.75Z" fill="#ffebda" />
<path d="M224.50,642.50 C224.25,637.92 224.08,639.17 225.75,635.00 C227.42,630.83 226.75,630.42 229.50,630.00 C232.25,629.58 231.75,630.00 234.00,633.75 C236.25,637.50 235.92,636.67 236.25,641.25 C236.58,645.83 236.83,644.33 235.00,647.50 C233.17,650.67 233.58,650.33 230.75,650.75 C227.92,651.17 228.58,651.50 226.50,648.75 C224.42,646.00 224.75,647.08 224.50,642.50Z" fill="#ffebda" />
<path d="M226.25,643.00 C226.25,639.67 226.25,640.50 227.50,638.00 C228.75,635.50 228.17,635.25 230.00,635.50 C231.83,635.75 231.50,636.00 233.00,638.75 C234.50,641.50 234.42,640.58 234.50,643.75 C234.58,646.92 234.75,646.33 233.25,648.25 C231.75,650.17 231.92,649.58 230.00,649.50 C228.08,649.42 228.75,650.17 227.50,648.00 C226.25,645.83 226.25,646.33 226.25,643.00Z" fill="#ffcdb4" />
<path d="M228.25,644.50 C228.58,642.17 228.67,640.00 229.75,640.00 C230.83,640.00 231.25,642.00 231.50,644.50 C231.75,647.00 231.42,646.67 230.50,647.50 C229.58,648.33 229.50,648.00 228.75,647.00 C228.00,646.00 227.92,646.83 228.25,644.50Z" fill="#ffaa82" />
<path d="M257.00,662.50 C257.42,661.42 257.00,661.75 258.25,659.25 C259.50,656.75 257.00,655.75 260.75,655.00 C264.50,654.25 265.33,655.58 269.50,657.00 C273.67,658.42 271.58,657.42 273.25,659.25 C274.92,661.08 274.08,661.42 274.50,662.50Z" fill="#ffebda" />
<path d="M384.50,662.50 C384.92,661.42 383.25,661.92 385.75,659.25 C388.25,656.58 386.58,657.17 392.00,654.50 C397.42,651.83 396.58,651.75 402.00,651.25 C407.42,650.75 405.75,649.25 408.25,653.00 C410.75,656.75 409.08,659.33 409.50,662.50Z" fill="#ffebda" />
<path d="M315.65,462.46 C315.24,458.83 315.53,459.71 319.16,456.32 C322.78,452.92 321.73,453.45 326.53,452.28 C331.32,451.11 329.16,451.17 333.54,452.81 C337.93,454.44 336.41,453.86 339.68,457.19 C342.96,460.53 344.25,459.59 343.37,462.81 C342.49,466.02 342.08,464.80 337.05,466.84 C332.02,468.89 333.84,468.83 328.28,468.95 C322.73,469.06 324.60,469.36 320.39,467.19 C316.18,465.03 316.06,466.08 315.65,462.46Z" fill="#ffcdb4" />
<path d="M291.50,427.50 C291.25,429.50 292.25,427.67 290.75,433.50 C289.25,439.33 288.67,437.00 287.00,445.00 C285.33,453.00 285.75,449.17 285.75,457.50 C285.75,465.83 284.92,460.83 287.00,470.00 C289.08,479.17 288.67,475.83 292.00,485.00 C295.33,494.17 297.00,490.00 297.00,497.50 C297.00,505.00 295.67,501.67 292.00,507.50 C288.33,513.33 289.67,510.83 286.00,515.00 C282.33,519.17 285.08,515.83 281.00,520.00 C276.92,524.17 280.25,522.17 273.75,527.50 C267.25,532.83 269.75,530.67 261.50,536.00 C253.25,541.33 257.25,538.50 249.00,543.50 C240.75,548.50 244.17,547.08 236.75,551.00 C229.33,554.92 233.33,553.83 226.75,555.25 C220.17,556.67 222.75,555.25 217.00,555.25 C211.25,555.25 212.00,555.25 209.50,555.25 L205.00,425.00Z" fill="#82aaff" />
<path d="M247.75,427.50 C247.92,429.50 246.83,428.50 248.25,433.50 C249.67,438.50 249.08,436.17 252.00,442.50 C254.92,448.83 253.67,447.92 257.00,452.50 C260.33,457.08 257.83,457.08 262.00,456.25 C266.17,455.42 264.50,454.58 269.50,450.00 C274.50,445.42 272.83,448.00 277.00,442.50 C281.17,437.00 280.17,438.50 282.00,433.50 C283.83,428.50 282.33,429.50 282.50,427.50Z" fill="#b4cdff" />
<path d="M395.00,427.50 C394.83,429.50 395.92,427.67 394.50,433.50 C393.08,439.33 394.08,437.00 390.75,445.00 C387.42,453.00 389.08,450.00 384.50,457.50 C379.92,465.00 382.83,459.17 377.00,467.50 C371.17,475.83 372.83,472.50 367.00,482.50 C361.17,492.50 360.75,488.33 359.50,497.50 C358.25,506.67 359.92,501.67 363.25,510.00 C366.58,518.33 364.08,515.42 369.50,522.50 C374.92,529.58 372.00,525.42 379.50,531.25 C387.00,537.08 384.50,535.00 392.00,540.00 C399.50,545.00 396.17,543.08 402.00,546.25 C407.83,549.42 403.67,547.83 409.50,549.50 C415.33,551.17 413.25,549.00 419.50,551.25 C425.75,553.50 422.83,555.00 428.25,556.25 C433.67,557.50 430.92,554.17 435.75,555.00 C440.58,555.83 438.17,557.08 442.75,558.75 C447.33,560.42 447.25,559.58 449.50,560.00 L455.00,425.00Z" fill="#82aaff" />
<path d="M314.95,496.32 L326.53,496.67 L338.11,498.07 L337.75,510.70 L336.88,521.23 L333.54,525.61 L329.68,526.84 L325.12,524.39 L320.39,512.46 L315.65,501.93Z" fill="#82aaff" />
<path d="M313.25,617.50 C313.67,610.00 313.25,612.50 315.75,605.00 C318.25,597.50 316.17,597.08 320.75,595.00 C325.33,592.92 324.08,597.08 329.50,598.75 C334.92,600.42 332.83,596.25 337.00,600.00 C341.17,603.75 338.25,603.33 342.00,610.00 C345.75,616.67 345.50,614.17 348.25,620.00 C351.00,625.83 352.33,623.75 350.25,627.50 C348.17,631.25 348.92,630.25 342.00,631.25 C335.08,632.25 337.00,630.08 329.50,630.50 C322.00,630.92 324.50,633.50 319.50,632.50 C314.50,631.50 316.58,632.50 314.50,627.50 C312.42,622.50 312.83,625.00 313.25,617.50Z" fill="#82aaff" />
<path d="M284.50,615.50 C284.50,613.58 285.17,613.50 287.00,613.75 C288.83,614.00 290.00,614.33 290.00,616.25 C290.00,618.17 288.83,619.75 287.00,619.50 C285.17,619.25 284.50,617.42 284.50,615.50Z" fill="#82aaff" />
<path d="M301.50,653.00 L303.50,647.50 L306.00,652.50Z" fill="#82aaff"/>
<path d="M245.00,627.50 C245.42,624.58 246.75,624.08 250.75,622.75 C254.75,621.42 253.17,621.75 257.00,623.50 C260.83,625.25 261.83,625.33 262.25,628.00 C262.67,630.67 262.50,630.33 258.25,631.50 C254.00,632.67 253.92,632.83 249.50,631.50 C245.08,630.17 244.58,630.42 245.00,627.50Z" fill="#b4cdff" />
<linearGradient id="bs" x1="0" y1="0" x2="0" y2="1"><stop offset="0" stop-color="#b4cdff"/><stop offset="0.35" stop-color="#4178ff"/><stop offset="0.7" stop-color="#1950ff"/><stop offset="1" stop-color="#002de1"/></linearGradient>
<path d="M210,653.2 L250,653.0 L253.5,654.5 L254.2,662 L210,662Z" fill="url(#bs)"/>
<path d="M244,654.8 L253.6,654.8 L254.2,662 L240,662Z" fill="#002de1" opacity="0.8"/>
<path d="M217,655.3 L243,655.0 M219,656.9 L238,656.7 M225,658.2 L247,658.0" stroke="#82aaff" stroke-width="0.5" opacity="0.7" fill="none"/>
<path d="M238.00,427.50 C238.08,429.50 237.75,428.50 238.25,433.50 C238.75,438.50 237.42,434.50 239.50,442.50 C241.58,450.50 238.67,447.92 244.50,457.50 C250.33,467.08 247.00,465.00 257.00,471.25 C267.00,477.50 265.75,472.08 274.50,476.25 C283.25,480.42 279.08,476.67 283.25,483.75 C287.42,490.83 287.00,488.75 287.00,497.50 C287.00,506.25 286.42,502.50 283.25,510.00 C280.08,517.50 282.33,514.00 277.50,520.00 C272.67,526.00 274.92,523.25 268.75,528.00 C262.58,532.75 266.00,529.92 259.00,534.25 C252.00,538.58 255.17,536.67 247.75,541.00 C240.33,545.33 244.17,543.75 236.75,547.25 C229.33,550.75 232.08,550.08 225.50,551.50 C218.92,552.92 222.33,551.50 217.00,551.50 C211.67,551.50 212.00,551.50 209.50,551.50 L205.00,425.00Z" fill="#4178ff" />
<path d="M422.75,427.50 C422.92,429.50 422.25,428.50 423.25,433.50 C424.25,438.50 423.25,436.58 425.75,442.50 C428.25,448.42 427.42,445.83 430.75,451.25 C434.08,456.67 433.25,454.17 435.75,458.75 C438.25,463.33 440.33,462.08 438.25,465.00 C436.17,467.92 435.75,466.67 429.50,467.50 C423.25,468.33 426.17,467.92 419.50,467.50 C412.83,467.08 415.75,467.92 409.50,466.25 C403.25,464.58 406.58,462.08 400.75,462.50 C394.92,462.92 397.42,463.75 392.00,467.50 C386.58,471.25 389.92,467.92 384.50,473.75 C379.08,479.58 380.75,477.08 375.75,485.00 C370.75,492.92 370.75,489.17 369.50,497.50 C368.25,505.83 369.08,501.67 372.00,510.00 C374.92,518.33 373.25,515.83 378.25,522.50 C383.25,529.17 380.75,525.42 387.00,530.00 C393.25,534.58 390.33,532.50 397.00,536.25 C403.67,540.00 400.33,539.17 407.00,541.25 C413.67,543.33 410.33,541.25 417.00,542.50 C423.67,543.75 420.75,543.33 427.00,545.00 C433.25,546.67 430.50,545.83 435.75,547.50 C441.00,549.17 438.17,548.75 442.75,550.00 C447.33,551.25 447.25,550.83 449.50,551.25 L455.00,425.00Z" fill="#4178ff" />
<path d="M229.25,427.50 C229.33,429.50 229.00,427.67 229.50,433.50 C230.00,439.33 229.50,437.00 230.75,445.00 C232.00,453.00 229.08,450.00 233.25,457.50 C237.42,465.00 235.33,460.42 243.25,467.50 C251.17,474.58 247.00,472.50 257.00,478.75 C267.00,485.00 265.75,480.83 273.25,486.25 C280.75,491.67 277.00,489.58 279.50,495.00 C282.00,500.42 281.75,496.25 280.75,502.50 C279.75,508.75 278.83,507.92 276.50,513.75 C274.17,519.58 277.17,515.83 273.75,520.00 C270.33,524.17 272.00,522.17 266.25,526.25 C260.50,530.33 263.08,528.33 256.50,532.25 C249.92,536.17 253.08,534.50 246.50,538.00 C239.92,541.50 243.75,539.58 236.75,542.75 C229.75,545.92 232.08,545.83 225.50,547.50 C218.92,549.17 222.33,547.67 217.00,547.75 C211.67,547.83 212.00,547.75 209.50,547.75 L205.00,425.00Z" fill="#1950ff" />
<path d="M449.50,475.00 C447.25,475.42 448.58,474.58 442.75,476.25 C436.92,477.92 439.75,477.92 432.00,480.00 C424.25,482.08 427.83,482.92 419.50,482.50 C411.17,482.08 414.50,481.25 407.00,478.75 C399.50,476.25 403.25,475.00 397.00,475.00 C390.75,475.00 393.67,475.00 388.25,478.75 C382.83,482.50 384.50,480.42 380.75,486.25 C377.00,492.08 378.25,490.00 377.00,496.25 C375.75,502.50 376.17,498.75 377.00,505.00 C377.83,511.25 376.17,507.92 379.50,515.00 C382.83,522.08 381.17,520.42 387.00,526.25 C392.83,532.08 390.33,528.92 397.00,532.50 C403.67,536.08 400.33,535.33 407.00,537.00 C413.67,538.67 410.33,536.50 417.00,537.50 C423.67,538.50 421.17,538.75 427.00,540.00 C432.83,541.25 429.25,540.42 434.50,541.25 C439.75,542.08 437.75,541.92 442.75,542.50 C447.75,543.08 447.25,542.83 449.50,543.00Z" fill="#1950ff" />
<path d="M209.50,463.50 C211.83,463.58 212.33,463.42 216.50,463.75 C220.67,464.08 217.67,463.25 222.00,464.50 C226.33,465.75 223.67,463.17 229.50,467.50 C235.33,471.83 232.00,470.42 239.50,477.50 C247.00,484.58 242.42,482.08 252.00,488.75 C261.58,495.42 263.25,490.42 268.25,497.50 C273.25,504.58 267.83,502.08 267.00,510.00 C266.17,517.92 269.08,515.83 265.75,521.25 C262.42,526.67 264.08,522.50 257.00,526.25 C249.92,530.00 252.83,527.92 244.50,532.50 C236.17,537.08 239.50,536.50 232.00,540.00 C224.50,543.50 227.17,541.75 222.00,543.00 C216.83,544.25 220.67,543.42 216.50,543.75 C212.33,544.08 211.83,543.92 209.50,544.00Z" fill="#002de1" />
<path d="M449.50,485.50 C447.25,485.75 447.75,485.17 442.75,486.25 C437.75,487.33 441.42,487.50 434.50,488.75 C427.58,490.00 430.33,490.83 422.00,490.00 C413.67,489.17 417.83,488.58 409.50,486.25 C401.17,483.92 404.50,483.00 397.00,483.00 C389.50,483.00 391.58,483.08 387.00,486.25 C382.42,489.42 384.50,486.25 383.25,492.50 C382.00,498.75 382.42,496.25 383.25,505.00 C384.08,513.75 382.00,511.67 385.75,518.75 C389.50,525.83 388.25,522.08 394.50,526.25 C400.75,530.42 397.83,529.17 404.50,531.25 C411.17,533.33 407.83,532.50 414.50,532.50 C421.17,532.50 417.83,530.42 424.50,531.25 C431.17,532.08 428.42,533.33 434.50,535.00 C440.58,536.67 437.75,535.67 442.75,536.25 C447.75,536.83 447.25,536.58 449.50,536.75Z" fill="#002de1" />
<ellipse cx="401.00" cy="521.75" rx="2" ry="0.7" fill="#0019b4"/>
<path d="M209.50,482.25 C211.83,482.33 211.92,482.00 216.50,482.50 C221.08,483.00 218.50,481.67 223.25,483.75 C228.00,485.83 224.92,484.17 230.75,488.75 C236.58,493.33 235.33,490.42 240.75,497.50 C246.17,504.58 243.42,502.67 247.00,510.00 C250.58,517.33 252.33,514.67 251.50,519.50 C250.67,524.33 250.17,521.17 244.50,524.50 C238.83,527.83 241.17,526.17 234.50,529.50 C227.83,532.83 230.50,532.25 224.50,534.50 C218.50,536.75 221.50,535.58 216.50,536.25 C211.50,536.92 211.83,536.42 209.50,536.50Z" fill="#0019b4" />
<path d="M209.50,501.00 C211.83,501.08 212.33,500.75 216.50,501.25 C220.67,501.75 218.08,499.58 222.00,502.50 C225.92,505.42 224.50,505.42 228.25,510.00 C232.00,514.58 230.33,512.50 233.25,516.25 C236.17,520.00 237.83,518.33 237.00,521.25 C236.17,524.17 235.33,522.92 230.75,525.00 C226.17,527.08 228.00,526.25 223.25,527.50 C218.50,528.75 221.08,528.25 216.50,528.75 C211.92,529.25 211.83,528.92 209.50,529.00Z" fill="#00008c" />
<path d="M449.75,589.95 C447.47,590.16 445.61,590.16 442.91,590.57 C440.22,590.99 442.91,589.74 441.67,591.19 C440.42,592.65 440.84,591.40 439.18,594.93 C437.52,598.45 440.22,599.28 436.69,601.77 C433.17,604.25 431.92,600.11 428.61,602.39 C425.29,604.67 427.99,604.05 426.74,608.61 C425.50,613.17 426.53,612.96 424.88,616.07 C423.22,619.18 423.42,616.28 421.77,617.94 C420.11,619.59 420.94,617.11 419.90,621.04 C418.86,624.98 419.49,624.36 418.66,629.75 C417.83,635.14 418.45,632.24 417.41,637.21 C416.38,642.19 416.29,641.15 415.55,644.68 C414.80,648.20 414.97,646.13 415.17,647.79 C415.38,649.44 414.39,647.79 416.17,649.65 C417.95,651.52 411.61,651.89 420.52,653.38 C429.44,654.88 433.17,653.88 442.91,654.13 C452.65,654.38 447.47,654.13 449.75,654.13Z" fill="#ffebda" />
<path d="M441.39,615.98 L436.39,615.98 L434.63,611.16 L433.05,605.72 L431.47,611.16 L429.98,615.98 L421.65,616.60 L420.33,619.05 L419.02,626.95 L417.26,636.60 L414.81,645.37 L415.95,650.19 L420.33,653.09 L429.54,652.82 L438.32,653.44 L441.39,653.44Z" fill="#ffcdb4" />
<path d="M441.39,616.60 L434.98,616.42 L433.93,612.47 L433.05,609.23 L432.18,612.47 L431.30,616.42 L421.82,617.30 L420.77,619.49 L419.54,626.95 L417.88,636.60 L415.68,645.37 L416.82,649.75 L420.60,652.56 L429.54,652.30 L438.32,653.09 L441.39,653.09Z" fill="#ffaa82" />
<path d="M441.39,617.12 L433.93,616.95 L433.05,614.67 L432.35,616.95 L422.09,617.74 L421.12,619.93 L419.98,626.95 L418.40,636.60 L416.39,645.37 L417.44,649.32 L420.95,652.04 L429.54,651.77 L438.32,652.74 L441.39,652.74Z" fill="#ff7841" />
<path d="M441.39,617.82 L422.35,618.35 L421.47,620.37 L420.42,626.95 L419.02,636.60 L417.09,645.37 L418.14,648.88 L421.47,651.33 L429.54,651.16 L438.32,652.39 L441.39,652.39Z" fill="#ff5019" />
<path d="M441.39,618.88 L422.53,619.49 L421.82,621.25 L420.95,626.95 L419.72,636.60 L418.14,644.93 L419.19,648.00 L422.09,650.46 L429.54,650.46 L438.32,651.95 L441.39,651.95Z" fill="#e63200" />
<path d="M441.39,621.33 L437.44,622.21 L433.49,623.96 L429.54,622.04 L422.96,622.56 L421.82,624.14 L421.30,634.84 L420.60,640.11 L420.07,644.93 L421.65,648.44 L425.16,649.93 L433.05,650.81 L438.32,651.68 L441.39,651.68Z" fill="#be2300" />
<path d="M441.39,621.86 L440.51,621.86 L437.44,623.18 L433.49,625.37 L429.54,623.18 L423.23,624.14 L422.53,625.19 L422.35,634.84 L425.16,640.98 L429.54,645.81 L433.93,649.32 L437.88,650.63 L441.39,650.63Z" fill="#8c0000" />
<path d="M392,653.2 L437.9,653.2 L437.9,629 L440.8,629 L440.8,617.3 L450,617.3 L450,670 L392,670Z" fill="#fff"/>
</g>
<rect x="55.10" y="73.90" width="226.90" height="226.45" fill="none" stroke="#000" stroke-width="1.4"/>
<line x1="67.51" y1="300.35" x2="67.51" y2="303.55" stroke="#000" stroke-width="0.85"/>
<line x1="67.51" y1="73.90" x2="67.51" y2="70.70" stroke="#000" stroke-width="0.85"/>
<line x1="80.14" y1="300.35" x2="80.14" y2="303.55" stroke="#000" stroke-width="0.85"/>
<line x1="80.14" y1="73.90" x2="80.14" y2="70.70" stroke="#000" stroke-width="0.85"/>
<line x1="92.77" y1="300.35" x2="92.77" y2="306.65" stroke="#000" stroke-width="1.25"/>
<line x1="92.77" y1="73.90" x2="92.77" y2="67.60" stroke="#000" stroke-width="1.25"/>
<line x1="105.40" y1="300.35" x2="105.40" y2="303.55" stroke="#000" stroke-width="0.85"/>
<line x1="105.40" y1="73.90" x2="105.40" y2="70.70" stroke="#000" stroke-width="0.85"/>
<line x1="118.03" y1="300.35" x2="118.03" y2="303.55" stroke="#000" stroke-width="0.85"/>
<line x1="118.03" y1="73.90" x2="118.03" y2="70.70" stroke="#000" stroke-width="0.85"/>
<line x1="130.66" y1="300.35" x2="130.66" y2="306.65" stroke="#000" stroke-width="1.25"/>
<line x1="130.66" y1="73.90" x2="130.66" y2="67.60" stroke="#000" stroke-width="1.25"/>
<line x1="143.29" y1="300.35" x2="143.29" y2="303.55" stroke="#000" stroke-width="0.85"/>
<line x1="143.29" y1="73.90" x2="143.29" y2="70.70" stroke="#000" stroke-width="0.85"/>
<line x1="155.92" y1="300.35" x2="155.92" y2="303.55" stroke="#000" stroke-width="0.85"/>
<line x1="155.92" y1="73.90" x2="155.92" y2="70.70" stroke="#000" stroke-width="0.85"/>
<line x1="168.55" y1="300.35" x2="168.55" y2="306.65" stroke="#000" stroke-width="1.25"/>
<line x1="168.55" y1="73.90" x2="168.55" y2="67.60" stroke="#000" stroke-width="1.25"/>
<line x1="181.18" y1="300.35" x2="181.18" y2="303.55" stroke="#000" stroke-width="0.85"/>
<line x1="181.18" y1="73.90" x2="181.18" y2="70.70" stroke="#000" stroke-width="0.85"/>
<line x1="193.81" y1="300.35" x2="193.81" y2="303.55" stroke="#000" stroke-width="0.85"/>
<line x1="193.81" y1="73.90" x2="193.81" y2="70.70" stroke="#000" stroke-width="0.85"/>
<line x1="206.44" y1="300.35" x2="206.44" y2="306.65" stroke="#000" stroke-width="1.25"/>
<line x1="206.44" y1="73.90" x2="206.44" y2="67.60" stroke="#000" stroke-width="1.25"/>
<line x1="219.07" y1="300.35" x2="219.07" y2="303.55" stroke="#000" stroke-width="0.85"/>
<line x1="219.07" y1="73.90" x2="219.07" y2="70.70" stroke="#000" stroke-width="0.85"/>
<line x1="231.70" y1="300.35" x2="231.70" y2="303.55" stroke="#000" stroke-width="0.85"/>
<line x1="231.70" y1="73.90" x2="231.70" y2="70.70" stroke="#000" stroke-width="0.85"/>
<line x1="244.33" y1="300.35" x2="244.33" y2="306.65" stroke="#000" stroke-width="1.25"/>
<line x1="244.33" y1="73.90" x2="244.33" y2="67.60" stroke="#000" stroke-width="1.25"/>
<line x1="256.96" y1="300.35" x2="256.96" y2="303.55" stroke="#000" stroke-width="0.85"/>
<line x1="256.96" y1="73.90" x2="256.96" y2="70.70" stroke="#000" stroke-width="0.85"/>
<line x1="269.59" y1="300.35" x2="269.59" y2="303.55" stroke="#000" stroke-width="0.85"/>
<line x1="269.59" y1="73.90" x2="269.59" y2="70.70" stroke="#000" stroke-width="0.85"/>
<line x1="48.30" y1="73.90" x2="55.10" y2="73.90" stroke="#000" stroke-width="1.30"/>
<line x1="48.30" y1="104.27" x2="55.10" y2="104.27" stroke="#000" stroke-width="1.30"/>
<line x1="48.30" y1="138.80" x2="55.10" y2="138.80" stroke="#000" stroke-width="1.30"/>
<line x1="48.30" y1="163.30" x2="55.10" y2="163.30" stroke="#000" stroke-width="1.30"/>
<line x1="48.30" y1="182.30" x2="55.10" y2="182.30" stroke="#000" stroke-width="1.30"/>
<line x1="48.30" y1="197.83" x2="55.10" y2="197.83" stroke="#000" stroke-width="1.30"/>
<line x1="48.30" y1="222.32" x2="55.10" y2="222.32" stroke="#000" stroke-width="1.30"/>
<line x1="48.30" y1="241.32" x2="55.10" y2="241.32" stroke="#000" stroke-width="1.30"/>
<line x1="48.30" y1="269.98" x2="55.10" y2="269.98" stroke="#000" stroke-width="1.30"/>
<line x1="48.30" y1="286.51" x2="55.10" y2="286.51" stroke="#000" stroke-width="1.30"/>
<line x1="48.30" y1="300.35" x2="55.10" y2="300.35" stroke="#000" stroke-width="1.30"/>
<line x1="282.00" y1="107.00" x2="288.80" y2="107.00" stroke="#000" stroke-width="1.30"/>
<line x1="282.00" y1="160.50" x2="288.80" y2="160.50" stroke="#000" stroke-width="1.30"/>
<line x1="282.00" y1="212.50" x2="288.80" y2="212.50" stroke="#000" stroke-width="1.30"/>
<line x1="282.00" y1="259.00" x2="288.80" y2="259.00" stroke="#000" stroke-width="1.30"/>
<rect x="376.80" y="73.90" width="226.75" height="226.45" fill="none" stroke="#000" stroke-width="1.4"/>
<line x1="387.61" y1="300.35" x2="387.61" y2="303.55" stroke="#000" stroke-width="0.85"/>
<line x1="387.61" y1="73.90" x2="387.61" y2="70.70" stroke="#000" stroke-width="0.85"/>
<line x1="400.43" y1="300.35" x2="400.43" y2="303.55" stroke="#000" stroke-width="0.85"/>
<line x1="400.43" y1="73.90" x2="400.43" y2="70.70" stroke="#000" stroke-width="0.85"/>
<line x1="413.25" y1="300.35" x2="413.25" y2="306.65" stroke="#000" stroke-width="1.25"/>
<line x1="413.25" y1="73.90" x2="413.25" y2="67.60" stroke="#000" stroke-width="1.25"/>
<line x1="426.07" y1="300.35" x2="426.07" y2="303.55" stroke="#000" stroke-width="0.85"/>
<line x1="426.07" y1="73.90" x2="426.07" y2="70.70" stroke="#000" stroke-width="0.85"/>
<line x1="438.89" y1="300.35" x2="438.89" y2="303.55" stroke="#000" stroke-width="0.85"/>
<line x1="438.89" y1="73.90" x2="438.89" y2="70.70" stroke="#000" stroke-width="0.85"/>
<line x1="451.71" y1="300.35" x2="451.71" y2="306.65" stroke="#000" stroke-width="1.25"/>
<line x1="451.71" y1="73.90" x2="451.71" y2="67.60" stroke="#000" stroke-width="1.25"/>
<line x1="464.53" y1="300.35" x2="464.53" y2="303.55" stroke="#000" stroke-width="0.85"/>
<line x1="464.53" y1="73.90" x2="464.53" y2="70.70" stroke="#000" stroke-width="0.85"/>
<line x1="477.35" y1="300.35" x2="477.35" y2="303.55" stroke="#000" stroke-width="0.85"/>
<line x1="477.35" y1="73.90" x2="477.35" y2="70.70" stroke="#000" stroke-width="0.85"/>
<line x1="490.17" y1="300.35" x2="490.17" y2="306.65" stroke="#000" stroke-width="1.25"/>
<line x1="490.17" y1="73.90" x2="490.17" y2="67.60" stroke="#000" stroke-width="1.25"/>
<line x1="502.99" y1="300.35" x2="502.99" y2="303.55" stroke="#000" stroke-width="0.85"/>
<line x1="502.99" y1="73.90" x2="502.99" y2="70.70" stroke="#000" stroke-width="0.85"/>
<line x1="515.81" y1="300.35" x2="515.81" y2="303.55" stroke="#000" stroke-width="0.85"/>
<line x1="515.81" y1="73.90" x2="515.81" y2="70.70" stroke="#000" stroke-width="0.85"/>
<line x1="528.63" y1="300.35" x2="528.63" y2="306.65" stroke="#000" stroke-width="1.25"/>
<line x1="528.63" y1="73.90" x2="528.63" y2="67.60" stroke="#000" stroke-width="1.25"/>
<line x1="541.45" y1="300.35" x2="541.45" y2="303.55" stroke="#000" stroke-width="0.85"/>
<line x1="541.45" y1="73.90" x2="541.45" y2="70.70" stroke="#000" stroke-width="0.85"/>
<line x1="554.27" y1="300.35" x2="554.27" y2="303.55" stroke="#000" stroke-width="0.85"/>
<line x1="554.27" y1="73.90" x2="554.27" y2="70.70" stroke="#000" stroke-width="0.85"/>
<line x1="567.09" y1="300.35" x2="567.09" y2="306.65" stroke="#000" stroke-width="1.25"/>
<line x1="567.09" y1="73.90" x2="567.09" y2="67.60" stroke="#000" stroke-width="1.25"/>
<line x1="579.91" y1="300.35" x2="579.91" y2="303.55" stroke="#000" stroke-width="0.85"/>
<line x1="579.91" y1="73.90" x2="579.91" y2="70.70" stroke="#000" stroke-width="0.85"/>
<line x1="592.73" y1="300.35" x2="592.73" y2="303.55" stroke="#000" stroke-width="0.85"/>
<line x1="592.73" y1="73.90" x2="592.73" y2="70.70" stroke="#000" stroke-width="0.85"/>
<line x1="370.00" y1="73.90" x2="376.80" y2="73.90" stroke="#000" stroke-width="1.30"/>
<line x1="370.00" y1="104.27" x2="376.80" y2="104.27" stroke="#000" stroke-width="1.30"/>
<line x1="370.00" y1="138.80" x2="376.80" y2="138.80" stroke="#000" stroke-width="1.30"/>
<line x1="370.00" y1="163.30" x2="376.80" y2="163.30" stroke="#000" stroke-width="1.30"/>
<line x1="370.00" y1="182.30" x2="376.80" y2="182.30" stroke="#000" stroke-width="1.30"/>
<line x1="370.00" y1="197.83" x2="376.80" y2="197.83" stroke="#000" stroke-width="1.30"/>
<line x1="370.00" y1="222.32" x2="376.80" y2="222.32" stroke="#000" stroke-width="1.30"/>
<line x1="370.00" y1="241.32" x2="376.80" y2="241.32" stroke="#000" stroke-width="1.30"/>
<line x1="370.00" y1="269.98" x2="376.80" y2="269.98" stroke="#000" stroke-width="1.30"/>
<line x1="370.00" y1="286.51" x2="376.80" y2="286.51" stroke="#000" stroke-width="1.30"/>
<line x1="370.00" y1="300.35" x2="376.80" y2="300.35" stroke="#000" stroke-width="1.30"/>
<line x1="603.55" y1="107.00" x2="610.35" y2="107.00" stroke="#000" stroke-width="1.30"/>
<line x1="603.55" y1="160.50" x2="610.35" y2="160.50" stroke="#000" stroke-width="1.30"/>
<line x1="603.55" y1="212.50" x2="610.35" y2="212.50" stroke="#000" stroke-width="1.30"/>
<line x1="603.55" y1="259.00" x2="610.35" y2="259.00" stroke="#000" stroke-width="1.30"/>
<rect x="216.10" y="433.00" width="226.90" height="226.70" fill="none" stroke="#000" stroke-width="1.4"/>
<line x1="226.99" y1="659.70" x2="226.99" y2="662.90" stroke="#000" stroke-width="0.85"/>
<line x1="226.99" y1="433.00" x2="226.99" y2="429.80" stroke="#000" stroke-width="0.85"/>
<line x1="239.81" y1="659.70" x2="239.81" y2="662.90" stroke="#000" stroke-width="0.85"/>
<line x1="239.81" y1="433.00" x2="239.81" y2="429.80" stroke="#000" stroke-width="0.85"/>
<line x1="252.63" y1="659.70" x2="252.63" y2="666.00" stroke="#000" stroke-width="1.25"/>
<line x1="252.63" y1="433.00" x2="252.63" y2="426.70" stroke="#000" stroke-width="1.25"/>
<line x1="265.45" y1="659.70" x2="265.45" y2="662.90" stroke="#000" stroke-width="0.85"/>
<line x1="265.45" y1="433.00" x2="265.45" y2="429.80" stroke="#000" stroke-width="0.85"/>
<line x1="278.27" y1="659.70" x2="278.27" y2="662.90" stroke="#000" stroke-width="0.85"/>
<line x1="278.27" y1="433.00" x2="278.27" y2="429.80" stroke="#000" stroke-width="0.85"/>
<line x1="291.09" y1="659.70" x2="291.09" y2="666.00" stroke="#000" stroke-width="1.25"/>
<line x1="291.09" y1="433.00" x2="291.09" y2="426.70" stroke="#000" stroke-width="1.25"/>
<line x1="303.91" y1="659.70" x2="303.91" y2="662.90" stroke="#000" stroke-width="0.85"/>
<line x1="303.91" y1="433.00" x2="303.91" y2="429.80" stroke="#000" stroke-width="0.85"/>
<line x1="316.73" y1="659.70" x2="316.73" y2="662.90" stroke="#000" stroke-width="0.85"/>
<line x1="316.73" y1="433.00" x2="316.73" y2="429.80" stroke="#000" stroke-width="0.85"/>
<line x1="329.55" y1="659.70" x2="329.55" y2="666.00" stroke="#000" stroke-width="1.25"/>
<line x1="329.55" y1="433.00" x2="329.55" y2="426.70" stroke="#000" stroke-width="1.25"/>
<line x1="342.37" y1="659.70" x2="342.37" y2="662.90" stroke="#000" stroke-width="0.85"/>
<line x1="342.37" y1="433.00" x2="342.37" y2="429.80" stroke="#000" stroke-width="0.85"/>
<line x1="355.19" y1="659.70" x2="355.19" y2="662.90" stroke="#000" stroke-width="0.85"/>
<line x1="355.19" y1="433.00" x2="355.19" y2="429.80" stroke="#000" stroke-width="0.85"/>
<line x1="368.01" y1="659.70" x2="368.01" y2="666.00" stroke="#000" stroke-width="1.25"/>
<line x1="368.01" y1="433.00" x2="368.01" y2="426.70" stroke="#000" stroke-width="1.25"/>
<line x1="380.83" y1="659.70" x2="380.83" y2="662.90" stroke="#000" stroke-width="0.85"/>
<line x1="380.83" y1="433.00" x2="380.83" y2="429.80" stroke="#000" stroke-width="0.85"/>
<line x1="393.65" y1="659.70" x2="393.65" y2="662.90" stroke="#000" stroke-width="0.85"/>
<line x1="393.65" y1="433.00" x2="393.65" y2="429.80" stroke="#000" stroke-width="0.85"/>
<line x1="406.47" y1="659.70" x2="406.47" y2="666.00" stroke="#000" stroke-width="1.25"/>
<line x1="406.47" y1="433.00" x2="406.47" y2="426.70" stroke="#000" stroke-width="1.25"/>
<line x1="419.29" y1="659.70" x2="419.29" y2="662.90" stroke="#000" stroke-width="0.85"/>
<line x1="419.29" y1="433.00" x2="419.29" y2="429.80" stroke="#000" stroke-width="0.85"/>
<line x1="432.11" y1="659.70" x2="432.11" y2="662.90" stroke="#000" stroke-width="0.85"/>
<line x1="432.11" y1="433.00" x2="432.11" y2="429.80" stroke="#000" stroke-width="0.85"/>
<line x1="209.30" y1="433.00" x2="216.10" y2="433.00" stroke="#000" stroke-width="1.30"/>
<line x1="209.30" y1="463.41" x2="216.10" y2="463.41" stroke="#000" stroke-width="1.30"/>
<line x1="209.30" y1="497.97" x2="216.10" y2="497.97" stroke="#000" stroke-width="1.30"/>
<line x1="209.30" y1="522.50" x2="216.10" y2="522.50" stroke="#000" stroke-width="1.30"/>
<line x1="209.30" y1="541.52" x2="216.10" y2="541.52" stroke="#000" stroke-width="1.30"/>
<line x1="209.30" y1="557.06" x2="216.10" y2="557.06" stroke="#000" stroke-width="1.30"/>
<line x1="209.30" y1="581.59" x2="216.10" y2="581.59" stroke="#000" stroke-width="1.30"/>
<line x1="209.30" y1="600.61" x2="216.10" y2="600.61" stroke="#000" stroke-width="1.30"/>
<line x1="209.30" y1="629.29" x2="216.10" y2="629.29" stroke="#000" stroke-width="1.30"/>
<line x1="209.30" y1="645.85" x2="216.10" y2="645.85" stroke="#000" stroke-width="1.30"/>
<line x1="209.30" y1="659.70" x2="216.10" y2="659.70" stroke="#000" stroke-width="1.30"/>
<line x1="443.00" y1="466.30" x2="449.80" y2="466.30" stroke="#000" stroke-width="1.30"/>
<line x1="443.00" y1="519.80" x2="449.80" y2="519.80" stroke="#000" stroke-width="1.30"/>
<line x1="443.00" y1="571.80" x2="449.80" y2="571.80" stroke="#000" stroke-width="1.30"/>
<line x1="443.00" y1="618.30" x2="449.80" y2="618.30" stroke="#000" stroke-width="1.30"/>
<rect x="58.00" y="341.50" width="13.88" height="21.00" fill="#00008c"/>
<rect x="71.78" y="341.50" width="13.88" height="21.00" fill="#0019b4"/>
<rect x="85.56" y="341.50" width="13.88" height="21.00" fill="#002de1"/>
<rect x="99.34" y="341.50" width="13.88" height="21.00" fill="#1950ff"/>
<rect x="113.12" y="341.50" width="13.88" height="21.00" fill="#4178ff"/>
<rect x="126.90" y="341.50" width="13.88" height="21.00" fill="#82aaff"/>
<rect x="140.68" y="341.50" width="13.88" height="21.00" fill="#b4cdff"/>
<rect x="154.46" y="341.50" width="13.88" height="21.00" fill="#d7ebff"/>
<rect x="168.24" y="341.50" width="13.88" height="21.00" fill="#ffebda"/>
<rect x="182.02" y="341.50" width="13.88" height="21.00" fill="#ffcdb4"/>
<rect x="195.80" y="341.50" width="13.88" height="21.00" fill="#ffaa82"/>
<rect x="209.58" y="341.50" width="13.88" height="21.00" fill="#ff7841"/>
<rect x="223.36" y="341.50" width="13.88" height="21.00" fill="#ff5019"/>
<rect x="237.14" y="341.50" width="13.88" height="21.00" fill="#e63200"/>
<rect x="250.92" y="341.50" width="13.88" height="21.00" fill="#be2300"/>
<rect x="264.70" y="341.50" width="13.88" height="21.00" fill="#8c0000"/>
<line x1="71.78" y1="341.50" x2="71.78" y2="362.50" stroke="#000" stroke-width="0.85"/>
<line x1="85.56" y1="341.50" x2="85.56" y2="362.50" stroke="#000" stroke-width="0.85"/>
<line x1="99.34" y1="341.50" x2="99.34" y2="362.50" stroke="#000" stroke-width="0.85"/>
<line x1="113.12" y1="341.50" x2="113.12" y2="362.50" stroke="#000" stroke-width="0.85"/>
<line x1="126.90" y1="341.50" x2="126.90" y2="362.50" stroke="#000" stroke-width="0.85"/>
<line x1="140.68" y1="341.50" x2="140.68" y2="362.50" stroke="#000" stroke-width="0.85"/>
<line x1="154.46" y1="341.50" x2="154.46" y2="362.50" stroke="#000" stroke-width="0.85"/>
<line x1="168.24" y1="341.50" x2="168.24" y2="362.50" stroke="#000" stroke-width="0.85"/>
<line x1="182.02" y1="341.50" x2="182.02" y2="362.50" stroke="#000" stroke-width="0.85"/>
<line x1="195.80" y1="341.50" x2="195.80" y2="362.50" stroke="#000" stroke-width="0.85"/>
<line x1="209.58" y1="341.50" x2="209.58" y2="362.50" stroke="#000" stroke-width="0.85"/>
<line x1="223.36" y1="341.50" x2="223.36" y2="362.50" stroke="#000" stroke-width="0.85"/>
<line x1="237.14" y1="341.50" x2="237.14" y2="362.50" stroke="#000" stroke-width="0.85"/>
<line x1="250.92" y1="341.50" x2="250.92" y2="362.50" stroke="#000" stroke-width="0.85"/>
<line x1="264.70" y1="341.50" x2="264.70" y2="362.50" stroke="#000" stroke-width="0.85"/>
<rect x="58.00" y="341.50" width="220.48" height="21.00" fill="none" stroke="#000" stroke-width="0.8"/>
<rect x="380.00" y="341.50" width="13.88" height="21.00" fill="#00008c"/>
<rect x="393.78" y="341.50" width="13.88" height="21.00" fill="#0019b4"/>
<rect x="407.56" y="341.50" width="13.88" height="21.00" fill="#002de1"/>
<rect x="421.34" y="341.50" width="13.88" height="21.00" fill="#1950ff"/>
<rect x="435.12" y="341.50" width="13.88" height="21.00" fill="#4178ff"/>
<rect x="448.90" y="341.50" width="13.88" height="21.00" fill="#82aaff"/>
<rect x="462.68" y="341.50" width="13.88" height="21.00" fill="#b4cdff"/>
<rect x="476.46" y="341.50" width="13.88" height="21.00" fill="#d7ebff"/>
<rect x="490.24" y="341.50" width="13.88" height="21.00" fill="#ffebda"/>
<rect x="504.02" y="341.50" width="13.88" height="21.00" fill="#ffcdb4"/>
<rect x="517.80" y="341.50" width="13.88" height="21.00" fill="#ffaa82"/>
<rect x="531.58" y="341.50" width="13.88" height="21.00" fill="#ff7841"/>
<rect x="545.36" y="341.50" width="13.88" height="21.00" fill="#ff5019"/>
<rect x="559.14" y="341.50" width="13.88" height="21.00" fill="#e63200"/>
<rect x="572.92" y="341.50" width="13.88" height="21.00" fill="#be2300"/>
<rect x="586.70" y="341.50" width="13.88" height="21.00" fill="#8c0000"/>
<line x1="393.78" y1="341.50" x2="393.78" y2="362.50" stroke="#000" stroke-width="0.85"/>
<line x1="407.56" y1="341.50" x2="407.56" y2="362.50" stroke="#000" stroke-width="0.85"/>
<line x1="421.34" y1="341.50" x2="421.34" y2="362.50" stroke="#000" stroke-width="0.85"/>
<line x1="435.12" y1="341.50" x2="435.12" y2="362.50" stroke="#000" stroke-width="0.85"/>
<line x1="448.90" y1="341.50" x2="448.90" y2="362.50" stroke="#000" stroke-width="0.85"/>
<line x1="462.68" y1="341.50" x2="462.68" y2="362.50" stroke="#000" stroke-width="0.85"/>
<line x1="476.46" y1="341.50" x2="476.46" y2="362.50" stroke="#000" stroke-width="0.85"/>
<line x1="490.24" y1="341.50" x2="490.24" y2="362.50" stroke="#000" stroke-width="0.85"/>
<line x1="504.02" y1="341.50" x2="504.02" y2="362.50" stroke="#000" stroke-width="0.85"/>
<line x1="517.80" y1="341.50" x2="517.80" y2="362.50" stroke="#000" stroke-width="0.85"/>
<line x1="531.58" y1="341.50" x2="531.58" y2="362.50" stroke="#000" stroke-width="0.85"/>
<line x1="545.36" y1="341.50" x2="545.36" y2="362.50" stroke="#000" stroke-width="0.85"/>
<line x1="559.14" y1="341.50" x2="559.14" y2="362.50" stroke="#000" stroke-width="0.85"/>
<line x1="572.92" y1="341.50" x2="572.92" y2="362.50" stroke="#000" stroke-width="0.85"/>
<line x1="586.70" y1="341.50" x2="586.70" y2="362.50" stroke="#000" stroke-width="0.85"/>
<rect x="380.00" y="341.50" width="220.48" height="21.00" fill="none" stroke="#000" stroke-width="0.8"/>
<rect x="518.10" y="475.60" width="23.90" height="11.44" fill="#8c0000"/>
<rect x="518.10" y="486.94" width="23.90" height="11.44" fill="#be2300"/>
<rect x="518.10" y="498.28" width="23.90" height="11.44" fill="#e63200"/>
<rect x="518.10" y="509.62" width="23.90" height="11.44" fill="#ff5019"/>
<rect x="518.10" y="520.96" width="23.90" height="11.44" fill="#ff7841"/>
<rect x="518.10" y="532.30" width="23.90" height="11.44" fill="#ffaa82"/>
<rect x="518.10" y="543.64" width="23.90" height="11.44" fill="#ffcdb4"/>
<rect x="518.10" y="554.98" width="23.90" height="11.44" fill="#ffebda"/>
<rect x="518.10" y="566.32" width="23.90" height="11.44" fill="#d7ebff"/>
<rect x="518.10" y="577.66" width="23.90" height="11.44" fill="#b4cdff"/>
<rect x="518.10" y="589.00" width="23.90" height="11.44" fill="#82aaff"/>
<rect x="518.10" y="600.34" width="23.90" height="11.44" fill="#4178ff"/>
<rect x="518.10" y="611.68" width="23.90" height="11.44" fill="#1950ff"/>
<rect x="518.10" y="623.02" width="23.90" height="11.44" fill="#002de1"/>
<rect x="518.10" y="634.36" width="23.90" height="11.44" fill="#0019b4"/>
<rect x="518.10" y="645.70" width="23.90" height="11.44" fill="#00008c"/>
<line x1="518.10" y1="486.94" x2="542.00" y2="486.94" stroke="#000" stroke-width="0.85"/>
<line x1="518.10" y1="498.28" x2="542.00" y2="498.28" stroke="#000" stroke-width="0.85"/>
<line x1="518.10" y1="509.62" x2="542.00" y2="509.62" stroke="#000" stroke-width="0.85"/>
<line x1="518.10" y1="520.96" x2="542.00" y2="520.96" stroke="#000" stroke-width="0.85"/>
<line x1="518.10" y1="532.30" x2="542.00" y2="532.30" stroke="#000" stroke-width="0.85"/>
<line x1="518.10" y1="543.64" x2="542.00" y2="543.64" stroke="#000" stroke-width="0.85"/>
<line x1="518.10" y1="554.98" x2="542.00" y2="554.98" stroke="#000" stroke-width="0.85"/>
<line x1="518.10" y1="566.32" x2="542.00" y2="566.32" stroke="#000" stroke-width="0.85"/>
<line x1="518.10" y1="577.66" x2="542.00" y2="577.66" stroke="#000" stroke-width="0.85"/>
<line x1="518.10" y1="589.00" x2="542.00" y2="589.00" stroke="#000" stroke-width="0.85"/>
<line x1="518.10" y1="600.34" x2="542.00" y2="600.34" stroke="#000" stroke-width="0.85"/>
<line x1="518.10" y1="611.68" x2="542.00" y2="611.68" stroke="#000" stroke-width="0.85"/>
<line x1="518.10" y1="623.02" x2="542.00" y2="623.02" stroke="#000" stroke-width="0.85"/>
<line x1="518.10" y1="634.36" x2="542.00" y2="634.36" stroke="#000" stroke-width="0.85"/>
<line x1="518.10" y1="645.70" x2="542.00" y2="645.70" stroke="#000" stroke-width="0.85"/>
<rect x="518.10" y="475.60" width="23.90" height="181.44" fill="none" stroke="#000" stroke-width="0.8"/>
<g style="mix-blend-mode:multiply">
<text transform="translate(92.77,318.95) scale(1,1.045)" font-size="8.30" text-anchor="middle" stroke="#000" stroke-width="0.15">60N</text>
<text transform="translate(130.66,318.95) scale(1,1.045)" font-size="8.30" text-anchor="middle" stroke="#000" stroke-width="0.15">30N</text>
<text transform="translate(168.55,318.95) scale(1,1.045)" font-size="8.30" text-anchor="middle" stroke="#000" stroke-width="0.15">0</text>
<text transform="translate(206.44,318.95) scale(1,1.045)" font-size="8.30" text-anchor="middle" stroke="#000" stroke-width="0.15">30S</text>
<text transform="translate(244.33,318.95) scale(1,1.045)" font-size="8.30" text-anchor="middle" stroke="#000" stroke-width="0.15">60S</text>
<text transform="translate(42.90,76.85) scale(1,1.045)" font-size="8.30" text-anchor="end" stroke="#000" stroke-width="0.15">70</text>
<text transform="translate(42.90,107.22) scale(1,1.045)" font-size="8.30" text-anchor="end" stroke="#000" stroke-width="0.15">100</text>
<text transform="translate(42.90,141.75) scale(1,1.045)" font-size="8.30" text-anchor="end" stroke="#000" stroke-width="0.15">150</text>
<text transform="translate(42.90,166.25) scale(1,1.045)" font-size="8.30" text-anchor="end" stroke="#000" stroke-width="0.15">200</text>
<text transform="translate(42.90,185.25) scale(1,1.045)" font-size="8.30" text-anchor="end" stroke="#000" stroke-width="0.15">250</text>
<text transform="translate(42.90,200.78) scale(1,1.045)" font-size="8.30" text-anchor="end" stroke="#000" stroke-width="0.15">300</text>
<text transform="translate(42.90,225.27) scale(1,1.045)" font-size="8.30" text-anchor="end" stroke="#000" stroke-width="0.15">400</text>
<text transform="translate(42.90,244.27) scale(1,1.045)" font-size="8.30" text-anchor="end" stroke="#000" stroke-width="0.15">500</text>
<text transform="translate(42.90,272.93) scale(1,1.045)" font-size="8.30" text-anchor="end" stroke="#000" stroke-width="0.15">700</text>
<text transform="translate(42.90,289.46) scale(1,1.045)" font-size="8.30" text-anchor="end" stroke="#000" stroke-width="0.15">850</text>
<text transform="translate(42.90,303.30) scale(1,1.045)" font-size="8.30" text-anchor="end" stroke="#000" stroke-width="0.15">1000</text>
<text transform="translate(294.00,109.95) scale(1,1.045)" font-size="8.30" text-anchor="start" stroke="#000" stroke-width="0.15">16</text>
<text transform="translate(294.00,163.45) scale(1,1.045)" font-size="8.30" text-anchor="start" stroke="#000" stroke-width="0.15">12</text>
<text transform="translate(294.00,215.45) scale(1,1.045)" font-size="8.30" text-anchor="start" stroke="#000" stroke-width="0.15">8</text>
<text transform="translate(294.00,261.95) scale(1,1.045)" font-size="8.30" text-anchor="start" stroke="#000" stroke-width="0.15">4</text>
<text transform="translate(14.90,187.53) rotate(-90) scale(1,1.045)" font-size="12.7" text-anchor="middle" stroke="#000" stroke-width="0.12">Pressure (mb)</text>
<text transform="translate(318.30,187.32) rotate(-90) scale(1,1.045)" font-size="12.7" text-anchor="middle" stroke="#000" stroke-width="0.12">Height (km)</text>
<text transform="translate(55.10,64.00) scale(1,1.045)" font-size="12.20" text-anchor="start" stroke="#000" stroke-width="0.12">Temperature</text>
<text transform="translate(282.20,66.70) scale(1,1.045)" font-size="12.20" text-anchor="end" stroke="#000" stroke-width="0.12">K</text>
<text transform="translate(168.55,45.10) scale(1,1.045)" font-size="13.00" text-anchor="middle" stroke="#000" stroke-width="0.15">f1850c5_t2 (yrs 6-8)</text>
<text transform="translate(413.25,318.95) scale(1,1.045)" font-size="8.30" text-anchor="middle" stroke="#000" stroke-width="0.15">60N</text>
<text transform="translate(451.71,318.95) scale(1,1.045)" font-size="8.30" text-anchor="middle" stroke="#000" stroke-width="0.15">30N</text>
<text transform="translate(490.17,318.95) scale(1,1.045)" font-size="8.30" text-anchor="middle" stroke="#000" stroke-width="0.15">0</text>
<text transform="translate(528.63,318.95) scale(1,1.045)" font-size="8.30" text-anchor="middle" stroke="#000" stroke-width="0.15">30S</text>
<text transform="translate(567.09,318.95) scale(1,1.045)" font-size="8.30" text-anchor="middle" stroke="#000" stroke-width="0.15">60S</text>
<text transform="translate(364.60,76.85) scale(1,1.045)" font-size="8.30" text-anchor="end" stroke="#000" stroke-width="0.15">70</text>
<text transform="translate(364.60,107.22) scale(1,1.045)" font-size="8.30" text-anchor="end" stroke="#000" stroke-width="0.15">100</text>
<text transform="translate(364.60,141.75) scale(1,1.045)" font-size="8.30" text-anchor="end" stroke="#000" stroke-width="0.15">150</text>
<text transform="translate(364.60,166.25) scale(1,1.045)" font-size="8.30" text-anchor="end" stroke="#000" stroke-width="0.15">200</text>
<text transform="translate(364.60,185.25) scale(1,1.045)" font-size="8.30" text-anchor="end" stroke="#000" stroke-width="0.15">250</text>
<text transform="translate(364.60,200.78) scale(1,1.045)" font-size="8.30" text-anchor="end" stroke="#000" stroke-width="0.15">300</text>
<text transform="translate(364.60,225.27) scale(1,1.045)" font-size="8.30" text-anchor="end" stroke="#000" stroke-width="0.15">400</text>
<text transform="translate(364.60,244.27) scale(1,1.045)" font-size="8.30" text-anchor="end" stroke="#000" stroke-width="0.15">500</text>
<text transform="translate(364.60,272.93) scale(1,1.045)" font-size="8.30" text-anchor="end" stroke="#000" stroke-width="0.15">700</text>
<text transform="translate(364.60,289.46) scale(1,1.045)" font-size="8.30" text-anchor="end" stroke="#000" stroke-width="0.15">850</text>
<text transform="translate(364.60,303.30) scale(1,1.045)" font-size="8.30" text-anchor="end" stroke="#000" stroke-width="0.15">1000</text>
<text transform="translate(615.55,109.95) scale(1,1.045)" font-size="8.30" text-anchor="start" stroke="#000" stroke-width="0.15">16</text>
<text transform="translate(615.55,163.45) scale(1,1.045)" font-size="8.30" text-anchor="start" stroke="#000" stroke-width="0.15">12</text>
<text transform="translate(615.55,215.45) scale(1,1.045)" font-size="8.30" text-anchor="start" stroke="#000" stroke-width="0.15">8</text>
<text transform="translate(615.55,261.95) scale(1,1.045)" font-size="8.30" text-anchor="start" stroke="#000" stroke-width="0.15">4</text>
<text transform="translate(336.60,187.53) rotate(-90) scale(1,1.045)" font-size="12.7" text-anchor="middle" stroke="#000" stroke-width="0.12">Pressure (mb)</text>
<text transform="translate(639.85,187.32) rotate(-90) scale(1,1.045)" font-size="12.7" text-anchor="middle" stroke="#000" stroke-width="0.12">Height (km)</text>
<text transform="translate(376.80,64.00) scale(1,1.045)" font-size="12.20" text-anchor="start" stroke="#000" stroke-width="0.12">Temperature</text>
<text transform="translate(603.75,66.70) scale(1,1.045)" font-size="12.20" text-anchor="end" stroke="#000" stroke-width="0.12">K</text>
<text transform="translate(490.17,45.10) scale(1,1.045)" font-size="13.00" text-anchor="middle" stroke="#000" stroke-width="0.15">AIRS</text>
<text transform="translate(252.63,678.30) scale(1,1.045)" font-size="8.30" text-anchor="middle" stroke="#000" stroke-width="0.15">60N</text>
<text transform="translate(291.09,678.30) scale(1,1.045)" font-size="8.30" text-anchor="middle" stroke="#000" stroke-width="0.15">30N</text>
<text transform="translate(329.55,678.30) scale(1,1.045)" font-size="8.30" text-anchor="middle" stroke="#000" stroke-width="0.15">0</text>
<text transform="translate(368.01,678.30) scale(1,1.045)" font-size="8.30" text-anchor="middle" stroke="#000" stroke-width="0.15">30S</text>
<text transform="translate(406.47,678.30) scale(1,1.045)" font-size="8.30" text-anchor="middle" stroke="#000" stroke-width="0.15">60S</text>
<text transform="translate(203.90,435.95) scale(1,1.045)" font-size="8.30" text-anchor="end" stroke="#000" stroke-width="0.15">70</text>
<text transform="translate(203.90,466.36) scale(1,1.045)" font-size="8.30" text-anchor="end" stroke="#000" stroke-width="0.15">100</text>
<text transform="translate(203.90,500.92) scale(1,1.045)" font-size="8.30" text-anchor="end" stroke="#000" stroke-width="0.15">150</text>
<text transform="translate(203.90,525.45) scale(1,1.045)" font-size="8.30" text-anchor="end" stroke="#000" stroke-width="0.15">200</text>
<text transform="translate(203.90,544.47) scale(1,1.045)" font-size="8.30" text-anchor="end" stroke="#000" stroke-width="0.15">250</text>
<text transform="translate(203.90,560.01) scale(1,1.045)" font-size="8.30" text-anchor="end" stroke="#000" stroke-width="0.15">300</text>
<text transform="translate(203.90,584.54) scale(1,1.045)" font-size="8.30" text-anchor="end" stroke="#000" stroke-width="0.15">400</text>
<text transform="translate(203.90,603.56) scale(1,1.045)" font-size="8.30" text-anchor="end" stroke="#000" stroke-width="0.15">500</text>
<text transform="translate(203.90,632.24) scale(1,1.045)" font-size="8.30" text-anchor="end" stroke="#000" stroke-width="0.15">700</text>
<text transform="translate(203.90,648.80) scale(1,1.045)" font-size="8.30" text-anchor="end" stroke="#000" stroke-width="0.15">850</text>
<text transform="translate(203.90,662.65) scale(1,1.045)" font-size="8.30" text-anchor="end" stroke="#000" stroke-width="0.15">1000</text>
<text transform="translate(455.00,469.25) scale(1,1.045)" font-size="8.30" text-anchor="start" stroke="#000" stroke-width="0.15">16</text>
<text transform="translate(455.00,522.75) scale(1,1.045)" font-size="8.30" text-anchor="start" stroke="#000" stroke-width="0.15">12</text>
<text transform="translate(455.00,574.75) scale(1,1.045)" font-size="8.30" text-anchor="start" stroke="#000" stroke-width="0.15">8</text>
<text transform="translate(455.00,621.25) scale(1,1.045)" font-size="8.30" text-anchor="start" stroke="#000" stroke-width="0.15">4</text>
<text transform="translate(175.90,546.75) rotate(-90) scale(1,1.045)" font-size="12.7" text-anchor="middle" stroke="#000" stroke-width="0.12">Pressure (mb)</text>
<text transform="translate(479.30,546.55) rotate(-90) scale(1,1.045)" font-size="12.7" text-anchor="middle" stroke="#000" stroke-width="0.12">Height (km)</text>
<text transform="translate(216.10,423.10) scale(1,1.045)" font-size="12.20" text-anchor="start" stroke="#000" stroke-width="0.12">Temperature</text>
<text transform="translate(443.20,425.80) scale(1,1.045)" font-size="12.20" text-anchor="end" stroke="#000" stroke-width="0.12">K</text>
<text transform="translate(329.55,404.20) scale(1,1.045)" font-size="13.00" text-anchor="middle" stroke="#000" stroke-width="0.15">f1850c5_t2 - AIRS</text>
<text transform="translate(324.50,19.10) scale(1,1.045)" font-size="18.80" text-anchor="middle" stroke="#000" stroke-width="0.2">ANN</text>
<text transform="translate(168.50,331.00) scale(1,1.045)" font-size="10.45" text-anchor="middle" xml:space="preserve" stroke="#000" stroke-width="0.1">MIN = 192.93  MAX = 298.63</text>
<text transform="translate(490.50,331.00) scale(1,1.045)" font-size="10.45" text-anchor="middle" xml:space="preserve" stroke="#000" stroke-width="0.1">MIN = 191.40  MAX = 299.12</text>
<text transform="translate(471.50,455.70) scale(1,1.045)" font-size="10.30" text-anchor="start" xml:space="preserve" stroke="#000" stroke-width="0.1">MIN = -10.74  MAX =  17.78</text>
<text transform="translate(71.78,374.90) scale(1,1.045)" font-size="8.80" text-anchor="middle" stroke="#000" stroke-width="0.12">180</text>
<text transform="translate(99.34,374.90) scale(1,1.045)" font-size="8.80" text-anchor="middle" stroke="#000" stroke-width="0.12">190</text>
<text transform="translate(126.90,374.90) scale(1,1.045)" font-size="8.80" text-anchor="middle" stroke="#000" stroke-width="0.12">210</text>
<text transform="translate(154.46,374.90) scale(1,1.045)" font-size="8.80" text-anchor="middle" stroke="#000" stroke-width="0.12">230</text>
<text transform="translate(182.02,374.90) scale(1,1.045)" font-size="8.80" text-anchor="middle" stroke="#000" stroke-width="0.12">250</text>
<text transform="translate(209.58,374.90) scale(1,1.045)" font-size="8.80" text-anchor="middle" stroke="#000" stroke-width="0.12">270</text>
<text transform="translate(237.14,374.90) scale(1,1.045)" font-size="8.80" text-anchor="middle" stroke="#000" stroke-width="0.12">290</text>
<text transform="translate(264.70,374.90) scale(1,1.045)" font-size="8.80" text-anchor="middle" stroke="#000" stroke-width="0.12">300</text>
<text transform="translate(393.78,374.90) scale(1,1.045)" font-size="8.80" text-anchor="middle" stroke="#000" stroke-width="0.12">180</text>
<text transform="translate(421.34,374.90) scale(1,1.045)" font-size="8.80" text-anchor="middle" stroke="#000" stroke-width="0.12">190</text>
<text transform="translate(448.90,374.90) scale(1,1.045)" font-size="8.80" text-anchor="middle" stroke="#000" stroke-width="0.12">210</text>
<text transform="translate(476.46,374.90) scale(1,1.045)" font-size="8.80" text-anchor="middle" stroke="#000" stroke-width="0.12">230</text>
<text transform="translate(504.02,374.90) scale(1,1.045)" font-size="8.80" text-anchor="middle" stroke="#000" stroke-width="0.12">250</text>
<text transform="translate(531.58,374.90) scale(1,1.045)" font-size="8.80" text-anchor="middle" stroke="#000" stroke-width="0.12">270</text>
<text transform="translate(559.14,374.90) scale(1,1.045)" font-size="8.80" text-anchor="middle" stroke="#000" stroke-width="0.12">290</text>
<text transform="translate(586.70,374.90) scale(1,1.045)" font-size="8.80" text-anchor="middle" stroke="#000" stroke-width="0.12">300</text>
<text transform="translate(549.40,490.09) scale(1,1.045)" font-size="8.80" text-anchor="middle" stroke="#000" stroke-width="0.12">9</text>
<text transform="translate(549.40,501.43) scale(1,1.045)" font-size="8.80" text-anchor="middle" stroke="#000" stroke-width="0.12">7</text>
<text transform="translate(549.40,512.77) scale(1,1.045)" font-size="8.80" text-anchor="middle" stroke="#000" stroke-width="0.12">5</text>
<text transform="translate(549.40,524.11) scale(1,1.045)" font-size="8.80" text-anchor="middle" stroke="#000" stroke-width="0.12">4</text>
<text transform="translate(549.40,535.45) scale(1,1.045)" font-size="8.80" text-anchor="middle" stroke="#000" stroke-width="0.12">3</text>
<text transform="translate(549.40,546.79) scale(1,1.045)" font-size="8.80" text-anchor="middle" stroke="#000" stroke-width="0.12">2</text>
<text transform="translate(549.40,558.13) scale(1,1.045)" font-size="8.80" text-anchor="middle" stroke="#000" stroke-width="0.12">1</text>
<text transform="translate(549.40,569.47) scale(1,1.045)" font-size="8.80" text-anchor="middle" stroke="#000" stroke-width="0.12">0</text>
<text transform="translate(549.40,580.81) scale(1,1.045)" font-size="8.80" text-anchor="middle" stroke="#000" stroke-width="0.12">-1</text>
<text transform="translate(549.40,592.15) scale(1,1.045)" font-size="8.80" text-anchor="middle" stroke="#000" stroke-width="0.12">-2</text>
<text transform="translate(549.40,603.49) scale(1,1.045)" font-size="8.80" text-anchor="middle" stroke="#000" stroke-width="0.12">-3</text>
<text transform="translate(549.40,614.83) scale(1,1.045)" font-size="8.80" text-anchor="middle" stroke="#000" stroke-width="0.12">-4</text>
<text transform="translate(549.40,626.17) scale(1,1.045)" font-size="8.80" text-anchor="middle" stroke="#000" stroke-width="0.12">-5</text>
<text transform="translate(549.40,637.51) scale(1,1.045)" font-size="8.80" text-anchor="middle" stroke="#000" stroke-width="0.12">-7</text>
<text transform="translate(549.40,648.85) scale(1,1.045)" font-size="8.80" text-anchor="middle" stroke="#000" stroke-width="0.12">-9</text>
</g>
</svg></body></html>
